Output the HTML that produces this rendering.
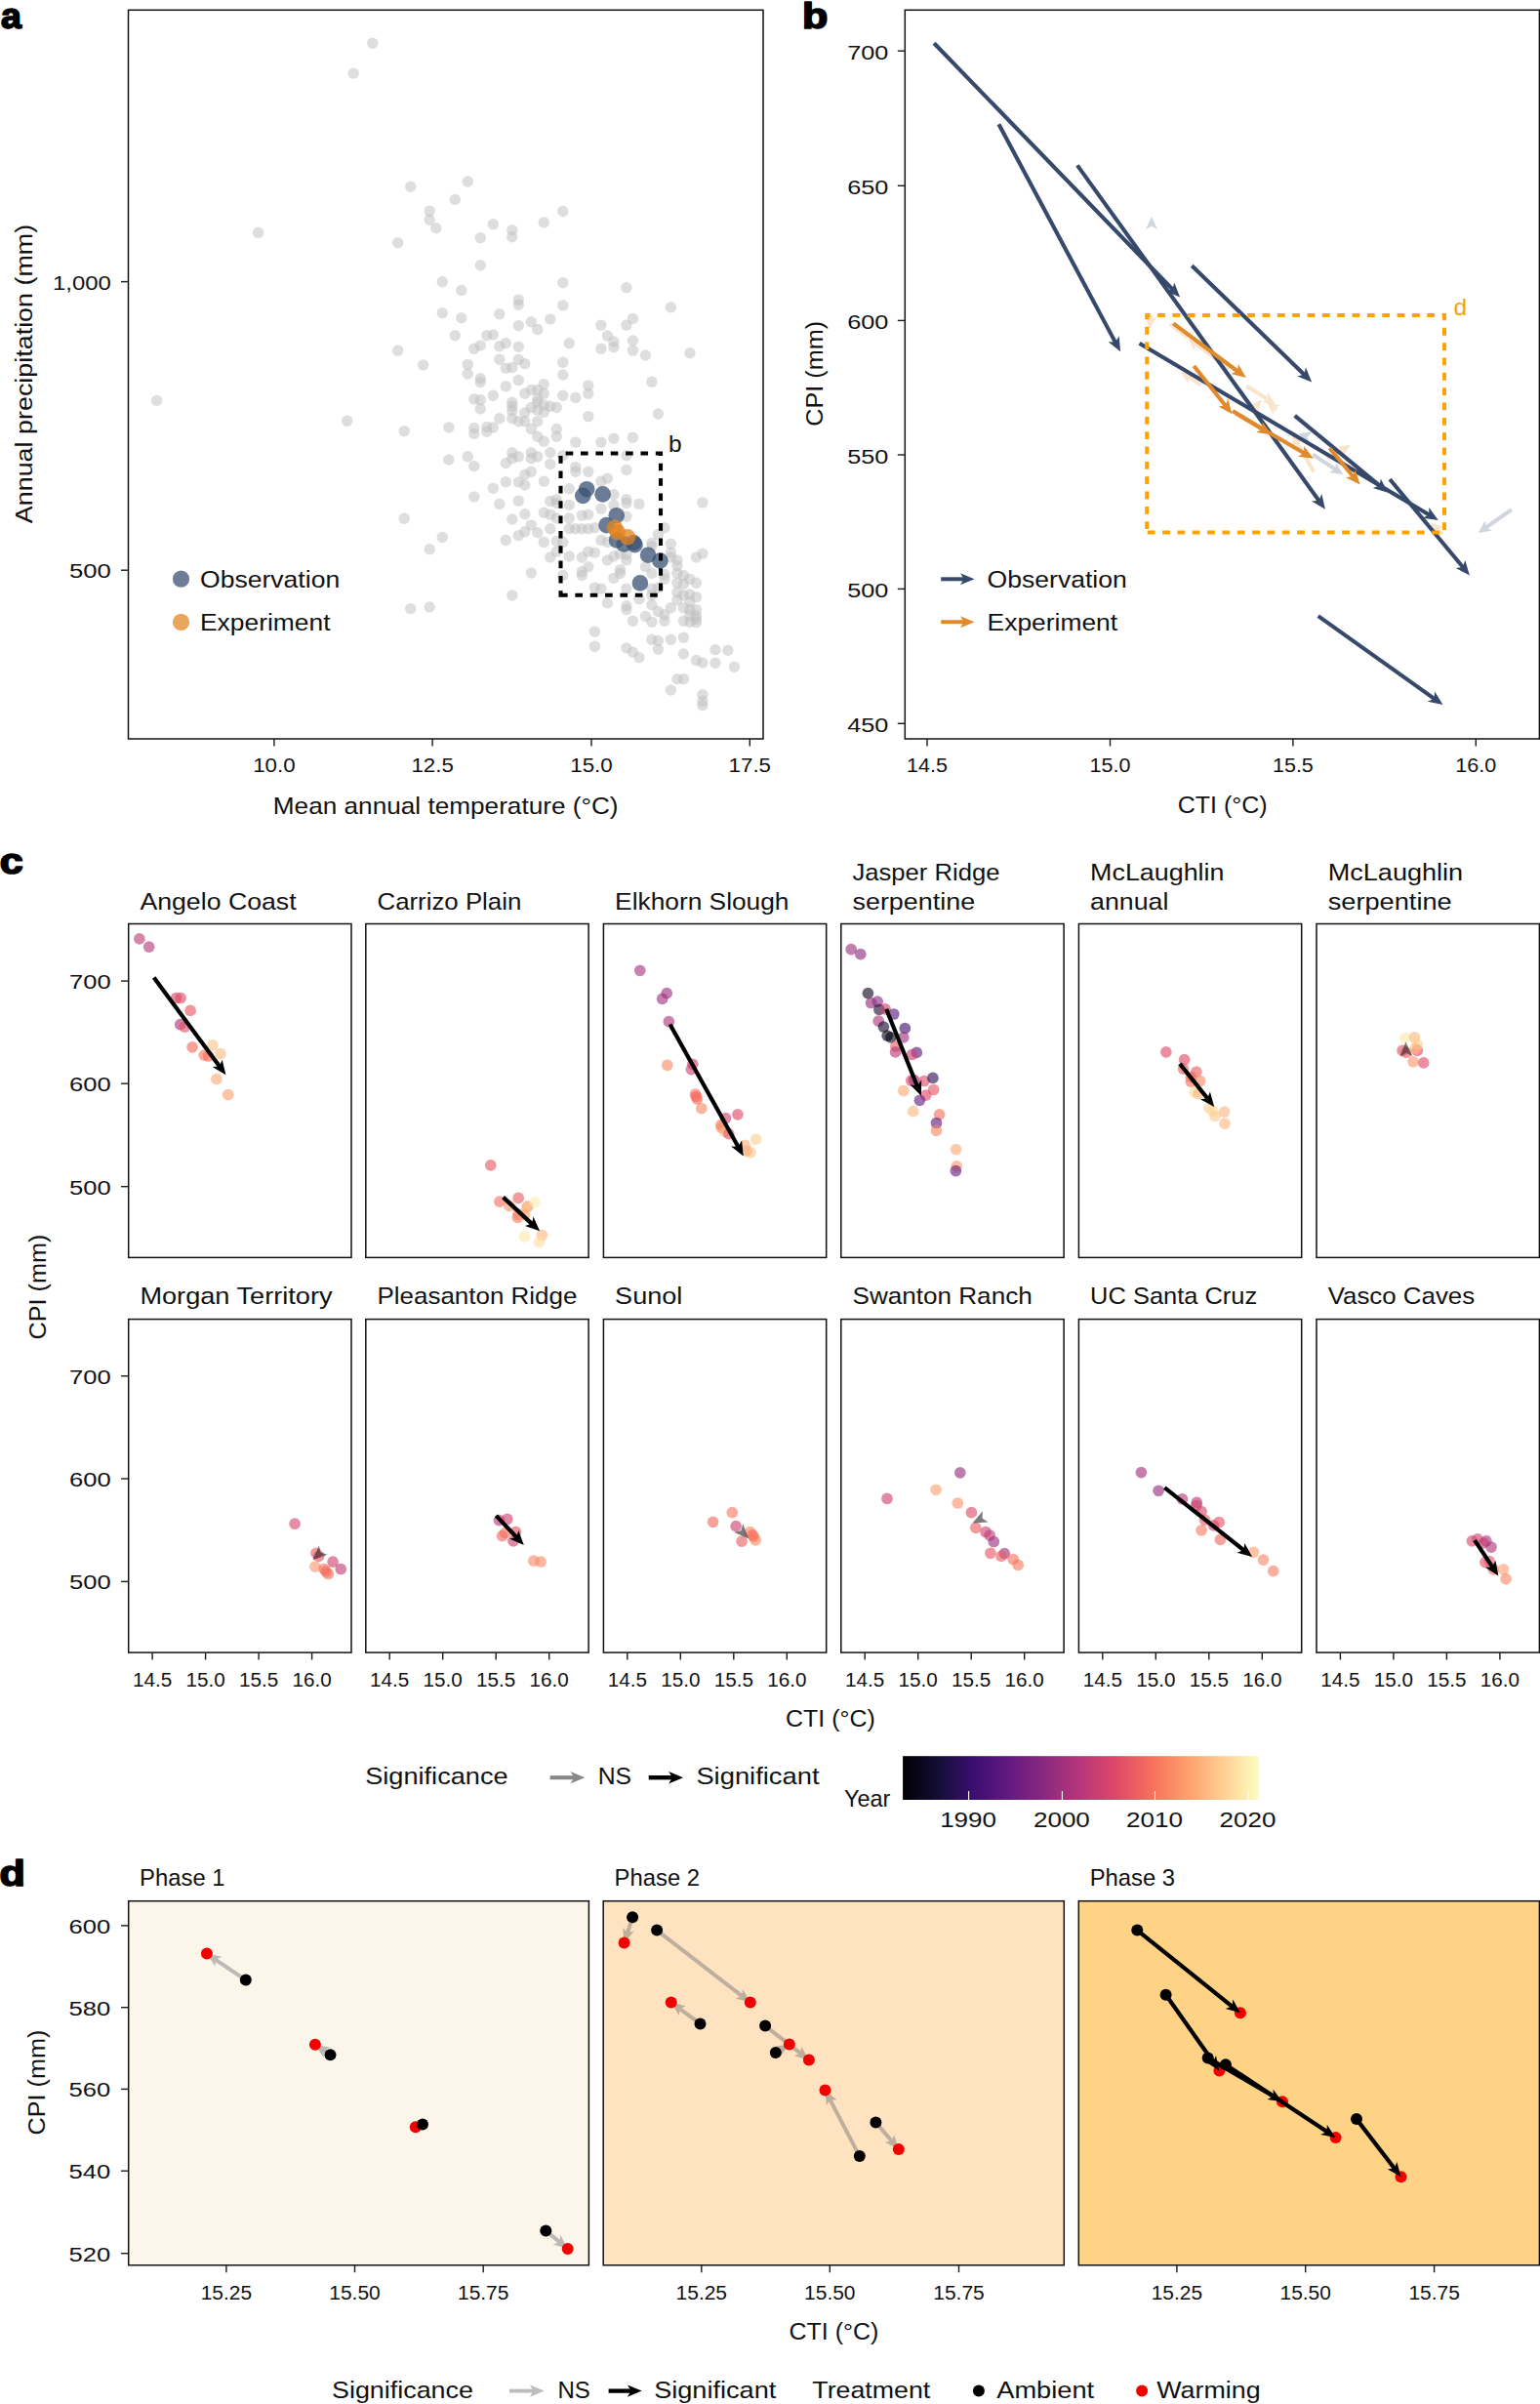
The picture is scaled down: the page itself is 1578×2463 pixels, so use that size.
<!DOCTYPE html>
<html><head><meta charset="utf-8"><title>Figure</title>
<style>html,body{margin:0;padding:0;background:#fff}svg{display:block}</style></head>
<body>
<svg width="1578" height="2463" viewBox="0 0 1578 2463" font-family="'Liberation Sans', sans-serif">
<rect width="1578" height="2463" fill="#fff"/>
<g id="pa">
<circle cx="381.7" cy="44.2" r="5.7" fill="#bdbdbd" fill-opacity="0.5"/>
<circle cx="362.2" cy="75.1" r="5.7" fill="#bdbdbd" fill-opacity="0.5"/>
<circle cx="264.6" cy="238.4" r="5.7" fill="#bdbdbd" fill-opacity="0.5"/>
<circle cx="420.7" cy="191.2" r="5.7" fill="#bdbdbd" fill-opacity="0.5"/>
<circle cx="479.3" cy="186.0" r="5.7" fill="#bdbdbd" fill-opacity="0.5"/>
<circle cx="466.3" cy="204.4" r="5.7" fill="#bdbdbd" fill-opacity="0.5"/>
<circle cx="440.2" cy="216.1" r="5.7" fill="#bdbdbd" fill-opacity="0.5"/>
<circle cx="440.2" cy="225.2" r="5.7" fill="#bdbdbd" fill-opacity="0.5"/>
<circle cx="446.8" cy="233.8" r="5.7" fill="#bdbdbd" fill-opacity="0.5"/>
<circle cx="407.7" cy="248.6" r="5.7" fill="#bdbdbd" fill-opacity="0.5"/>
<circle cx="492.3" cy="243.6" r="5.7" fill="#bdbdbd" fill-opacity="0.5"/>
<circle cx="492.3" cy="271.7" r="5.7" fill="#bdbdbd" fill-opacity="0.5"/>
<circle cx="453.3" cy="288.8" r="5.7" fill="#bdbdbd" fill-opacity="0.5"/>
<circle cx="472.8" cy="297.4" r="5.7" fill="#bdbdbd" fill-opacity="0.5"/>
<circle cx="505.3" cy="229.7" r="5.7" fill="#bdbdbd" fill-opacity="0.5"/>
<circle cx="524.8" cy="235.7" r="5.7" fill="#bdbdbd" fill-opacity="0.5"/>
<circle cx="524.8" cy="242.7" r="5.7" fill="#bdbdbd" fill-opacity="0.5"/>
<circle cx="557.3" cy="227.9" r="5.7" fill="#bdbdbd" fill-opacity="0.5"/>
<circle cx="576.8" cy="216.5" r="5.7" fill="#bdbdbd" fill-opacity="0.5"/>
<circle cx="576.8" cy="289.7" r="5.7" fill="#bdbdbd" fill-opacity="0.5"/>
<circle cx="641.9" cy="294.7" r="5.7" fill="#bdbdbd" fill-opacity="0.5"/>
<circle cx="531.3" cy="307.1" r="5.7" fill="#bdbdbd" fill-opacity="0.5"/>
<circle cx="531.3" cy="312.3" r="5.7" fill="#bdbdbd" fill-opacity="0.5"/>
<circle cx="576.8" cy="312.9" r="5.7" fill="#bdbdbd" fill-opacity="0.5"/>
<circle cx="687.4" cy="314.7" r="5.7" fill="#bdbdbd" fill-opacity="0.5"/>
<circle cx="453.3" cy="320.6" r="5.7" fill="#bdbdbd" fill-opacity="0.5"/>
<circle cx="472.8" cy="325.8" r="5.7" fill="#bdbdbd" fill-opacity="0.5"/>
<circle cx="511.8" cy="321.7" r="5.7" fill="#bdbdbd" fill-opacity="0.5"/>
<circle cx="563.8" cy="326.9" r="5.7" fill="#bdbdbd" fill-opacity="0.5"/>
<circle cx="544.3" cy="329.7" r="5.7" fill="#bdbdbd" fill-opacity="0.5"/>
<circle cx="531.3" cy="333.6" r="5.7" fill="#bdbdbd" fill-opacity="0.5"/>
<circle cx="550.8" cy="337.5" r="5.7" fill="#bdbdbd" fill-opacity="0.5"/>
<circle cx="615.9" cy="333.1" r="5.7" fill="#bdbdbd" fill-opacity="0.5"/>
<circle cx="641.9" cy="333.1" r="5.7" fill="#bdbdbd" fill-opacity="0.5"/>
<circle cx="648.4" cy="326.4" r="5.7" fill="#bdbdbd" fill-opacity="0.5"/>
<circle cx="466.3" cy="343.8" r="5.7" fill="#bdbdbd" fill-opacity="0.5"/>
<circle cx="498.8" cy="343.8" r="5.7" fill="#bdbdbd" fill-opacity="0.5"/>
<circle cx="505.3" cy="343.0" r="5.7" fill="#bdbdbd" fill-opacity="0.5"/>
<circle cx="622.4" cy="344.0" r="5.7" fill="#bdbdbd" fill-opacity="0.5"/>
<circle cx="628.9" cy="350.0" r="5.7" fill="#bdbdbd" fill-opacity="0.5"/>
<circle cx="648.4" cy="349.0" r="5.7" fill="#bdbdbd" fill-opacity="0.5"/>
<circle cx="407.7" cy="359.1" r="5.7" fill="#bdbdbd" fill-opacity="0.5"/>
<circle cx="485.8" cy="357.3" r="5.7" fill="#bdbdbd" fill-opacity="0.5"/>
<circle cx="492.3" cy="353.9" r="5.7" fill="#bdbdbd" fill-opacity="0.5"/>
<circle cx="511.8" cy="354.7" r="5.7" fill="#bdbdbd" fill-opacity="0.5"/>
<circle cx="518.3" cy="351.6" r="5.7" fill="#bdbdbd" fill-opacity="0.5"/>
<circle cx="531.3" cy="355.2" r="5.7" fill="#bdbdbd" fill-opacity="0.5"/>
<circle cx="583.3" cy="351.8" r="5.7" fill="#bdbdbd" fill-opacity="0.5"/>
<circle cx="615.9" cy="357.3" r="5.7" fill="#bdbdbd" fill-opacity="0.5"/>
<circle cx="628.9" cy="355.7" r="5.7" fill="#bdbdbd" fill-opacity="0.5"/>
<circle cx="648.4" cy="359.1" r="5.7" fill="#bdbdbd" fill-opacity="0.5"/>
<circle cx="661.4" cy="364.0" r="5.7" fill="#bdbdbd" fill-opacity="0.5"/>
<circle cx="706.9" cy="361.7" r="5.7" fill="#bdbdbd" fill-opacity="0.5"/>
<circle cx="433.7" cy="373.9" r="5.7" fill="#bdbdbd" fill-opacity="0.5"/>
<circle cx="479.3" cy="373.4" r="5.7" fill="#bdbdbd" fill-opacity="0.5"/>
<circle cx="511.8" cy="368.2" r="5.7" fill="#bdbdbd" fill-opacity="0.5"/>
<circle cx="531.3" cy="368.2" r="5.7" fill="#bdbdbd" fill-opacity="0.5"/>
<circle cx="537.8" cy="372.6" r="5.7" fill="#bdbdbd" fill-opacity="0.5"/>
<circle cx="518.3" cy="377.3" r="5.7" fill="#bdbdbd" fill-opacity="0.5"/>
<circle cx="524.8" cy="376.5" r="5.7" fill="#bdbdbd" fill-opacity="0.5"/>
<circle cx="576.8" cy="371.3" r="5.7" fill="#bdbdbd" fill-opacity="0.5"/>
<circle cx="479.3" cy="383.0" r="5.7" fill="#bdbdbd" fill-opacity="0.5"/>
<circle cx="576.8" cy="384.0" r="5.7" fill="#bdbdbd" fill-opacity="0.5"/>
<circle cx="492.3" cy="387.7" r="5.7" fill="#bdbdbd" fill-opacity="0.5"/>
<circle cx="492.3" cy="391.6" r="5.7" fill="#bdbdbd" fill-opacity="0.5"/>
<circle cx="531.3" cy="389.5" r="5.7" fill="#bdbdbd" fill-opacity="0.5"/>
<circle cx="518.3" cy="395.7" r="5.7" fill="#bdbdbd" fill-opacity="0.5"/>
<circle cx="557.3" cy="393.6" r="5.7" fill="#bdbdbd" fill-opacity="0.5"/>
<circle cx="602.8" cy="394.9" r="5.7" fill="#bdbdbd" fill-opacity="0.5"/>
<circle cx="667.9" cy="391.3" r="5.7" fill="#bdbdbd" fill-opacity="0.5"/>
<circle cx="544.3" cy="399.4" r="5.7" fill="#bdbdbd" fill-opacity="0.5"/>
<circle cx="550.8" cy="399.4" r="5.7" fill="#bdbdbd" fill-opacity="0.5"/>
<circle cx="537.8" cy="403.2" r="5.7" fill="#bdbdbd" fill-opacity="0.5"/>
<circle cx="557.3" cy="403.2" r="5.7" fill="#bdbdbd" fill-opacity="0.5"/>
<circle cx="576.8" cy="405.3" r="5.7" fill="#bdbdbd" fill-opacity="0.5"/>
<circle cx="589.8" cy="407.4" r="5.7" fill="#bdbdbd" fill-opacity="0.5"/>
<circle cx="602.8" cy="403.2" r="5.7" fill="#bdbdbd" fill-opacity="0.5"/>
<circle cx="505.3" cy="405.3" r="5.7" fill="#bdbdbd" fill-opacity="0.5"/>
<circle cx="485.8" cy="409.0" r="5.7" fill="#bdbdbd" fill-opacity="0.5"/>
<circle cx="492.3" cy="409.7" r="5.7" fill="#bdbdbd" fill-opacity="0.5"/>
<circle cx="524.8" cy="412.3" r="5.7" fill="#bdbdbd" fill-opacity="0.5"/>
<circle cx="524.8" cy="416.2" r="5.7" fill="#bdbdbd" fill-opacity="0.5"/>
<circle cx="550.8" cy="408.4" r="5.7" fill="#bdbdbd" fill-opacity="0.5"/>
<circle cx="550.8" cy="412.3" r="5.7" fill="#bdbdbd" fill-opacity="0.5"/>
<circle cx="492.3" cy="418.8" r="5.7" fill="#bdbdbd" fill-opacity="0.5"/>
<circle cx="544.3" cy="417.5" r="5.7" fill="#bdbdbd" fill-opacity="0.5"/>
<circle cx="557.3" cy="414.9" r="5.7" fill="#bdbdbd" fill-opacity="0.5"/>
<circle cx="563.8" cy="416.2" r="5.7" fill="#bdbdbd" fill-opacity="0.5"/>
<circle cx="570.3" cy="417.5" r="5.7" fill="#bdbdbd" fill-opacity="0.5"/>
<circle cx="550.8" cy="420.1" r="5.7" fill="#bdbdbd" fill-opacity="0.5"/>
<circle cx="557.3" cy="422.2" r="5.7" fill="#bdbdbd" fill-opacity="0.5"/>
<circle cx="537.8" cy="422.7" r="5.7" fill="#bdbdbd" fill-opacity="0.5"/>
<circle cx="602.8" cy="426.6" r="5.7" fill="#bdbdbd" fill-opacity="0.5"/>
<circle cx="674.4" cy="424.0" r="5.7" fill="#bdbdbd" fill-opacity="0.5"/>
<circle cx="459.8" cy="437.9" r="5.7" fill="#bdbdbd" fill-opacity="0.5"/>
<circle cx="485.8" cy="438.5" r="5.7" fill="#bdbdbd" fill-opacity="0.5"/>
<circle cx="485.8" cy="444.4" r="5.7" fill="#bdbdbd" fill-opacity="0.5"/>
<circle cx="498.8" cy="437.5" r="5.7" fill="#bdbdbd" fill-opacity="0.5"/>
<circle cx="505.3" cy="437.9" r="5.7" fill="#bdbdbd" fill-opacity="0.5"/>
<circle cx="511.8" cy="428.8" r="5.7" fill="#bdbdbd" fill-opacity="0.5"/>
<circle cx="524.8" cy="428.8" r="5.7" fill="#bdbdbd" fill-opacity="0.5"/>
<circle cx="531.3" cy="431.7" r="5.7" fill="#bdbdbd" fill-opacity="0.5"/>
<circle cx="537.8" cy="431.7" r="5.7" fill="#bdbdbd" fill-opacity="0.5"/>
<circle cx="550.8" cy="431.7" r="5.7" fill="#bdbdbd" fill-opacity="0.5"/>
<circle cx="524.8" cy="421.0" r="5.7" fill="#bdbdbd" fill-opacity="0.5"/>
<circle cx="544.3" cy="439.5" r="5.7" fill="#bdbdbd" fill-opacity="0.5"/>
<circle cx="550.8" cy="447.3" r="5.7" fill="#bdbdbd" fill-opacity="0.5"/>
<circle cx="557.3" cy="452.1" r="5.7" fill="#bdbdbd" fill-opacity="0.5"/>
<circle cx="570.3" cy="439.5" r="5.7" fill="#bdbdbd" fill-opacity="0.5"/>
<circle cx="570.3" cy="447.3" r="5.7" fill="#bdbdbd" fill-opacity="0.5"/>
<circle cx="589.8" cy="453.1" r="5.7" fill="#bdbdbd" fill-opacity="0.5"/>
<circle cx="615.9" cy="453.1" r="5.7" fill="#bdbdbd" fill-opacity="0.5"/>
<circle cx="628.9" cy="449.2" r="5.7" fill="#bdbdbd" fill-opacity="0.5"/>
<circle cx="648.4" cy="448.2" r="5.7" fill="#bdbdbd" fill-opacity="0.5"/>
<circle cx="459.8" cy="471.0" r="5.7" fill="#bdbdbd" fill-opacity="0.5"/>
<circle cx="479.3" cy="467.7" r="5.7" fill="#bdbdbd" fill-opacity="0.5"/>
<circle cx="485.8" cy="477.5" r="5.7" fill="#bdbdbd" fill-opacity="0.5"/>
<circle cx="518.3" cy="474.5" r="5.7" fill="#bdbdbd" fill-opacity="0.5"/>
<circle cx="524.8" cy="463.8" r="5.7" fill="#bdbdbd" fill-opacity="0.5"/>
<circle cx="524.8" cy="469.7" r="5.7" fill="#bdbdbd" fill-opacity="0.5"/>
<circle cx="531.3" cy="467.7" r="5.7" fill="#bdbdbd" fill-opacity="0.5"/>
<circle cx="544.3" cy="463.8" r="5.7" fill="#bdbdbd" fill-opacity="0.5"/>
<circle cx="544.3" cy="469.7" r="5.7" fill="#bdbdbd" fill-opacity="0.5"/>
<circle cx="550.8" cy="467.7" r="5.7" fill="#bdbdbd" fill-opacity="0.5"/>
<circle cx="563.8" cy="463.8" r="5.7" fill="#bdbdbd" fill-opacity="0.5"/>
<circle cx="563.8" cy="475.5" r="5.7" fill="#bdbdbd" fill-opacity="0.5"/>
<circle cx="576.8" cy="466.8" r="5.7" fill="#bdbdbd" fill-opacity="0.5"/>
<circle cx="589.8" cy="478.4" r="5.7" fill="#bdbdbd" fill-opacity="0.5"/>
<circle cx="589.8" cy="483.3" r="5.7" fill="#bdbdbd" fill-opacity="0.5"/>
<circle cx="602.8" cy="483.3" r="5.7" fill="#bdbdbd" fill-opacity="0.5"/>
<circle cx="641.9" cy="466.8" r="5.7" fill="#bdbdbd" fill-opacity="0.5"/>
<circle cx="641.9" cy="481.4" r="5.7" fill="#bdbdbd" fill-opacity="0.5"/>
<circle cx="537.8" cy="486.2" r="5.7" fill="#bdbdbd" fill-opacity="0.5"/>
<circle cx="544.3" cy="483.3" r="5.7" fill="#bdbdbd" fill-opacity="0.5"/>
<circle cx="518.3" cy="493.6" r="5.7" fill="#bdbdbd" fill-opacity="0.5"/>
<circle cx="531.3" cy="494.0" r="5.7" fill="#bdbdbd" fill-opacity="0.5"/>
<circle cx="537.8" cy="497.0" r="5.7" fill="#bdbdbd" fill-opacity="0.5"/>
<circle cx="557.3" cy="493.1" r="5.7" fill="#bdbdbd" fill-opacity="0.5"/>
<circle cx="505.3" cy="500.3" r="5.7" fill="#bdbdbd" fill-opacity="0.5"/>
<circle cx="485.8" cy="509.0" r="5.7" fill="#bdbdbd" fill-opacity="0.5"/>
<circle cx="511.8" cy="516.4" r="5.7" fill="#bdbdbd" fill-opacity="0.5"/>
<circle cx="531.3" cy="513.1" r="5.7" fill="#bdbdbd" fill-opacity="0.5"/>
<circle cx="615.9" cy="493.1" r="5.7" fill="#bdbdbd" fill-opacity="0.5"/>
<circle cx="622.4" cy="490.1" r="5.7" fill="#bdbdbd" fill-opacity="0.5"/>
<circle cx="583.3" cy="500.8" r="5.7" fill="#bdbdbd" fill-opacity="0.5"/>
<circle cx="628.9" cy="506.7" r="5.7" fill="#bdbdbd" fill-opacity="0.5"/>
<circle cx="641.9" cy="511.6" r="5.7" fill="#bdbdbd" fill-opacity="0.5"/>
<circle cx="641.9" cy="515.5" r="5.7" fill="#bdbdbd" fill-opacity="0.5"/>
<circle cx="654.9" cy="516.4" r="5.7" fill="#bdbdbd" fill-opacity="0.5"/>
<circle cx="563.8" cy="513.5" r="5.7" fill="#bdbdbd" fill-opacity="0.5"/>
<circle cx="570.3" cy="511.6" r="5.7" fill="#bdbdbd" fill-opacity="0.5"/>
<circle cx="570.3" cy="515.5" r="5.7" fill="#bdbdbd" fill-opacity="0.5"/>
<circle cx="583.3" cy="517.4" r="5.7" fill="#bdbdbd" fill-opacity="0.5"/>
<circle cx="628.9" cy="517.4" r="5.7" fill="#bdbdbd" fill-opacity="0.5"/>
<circle cx="615.9" cy="521.3" r="5.7" fill="#bdbdbd" fill-opacity="0.5"/>
<circle cx="719.9" cy="514.9" r="5.7" fill="#bdbdbd" fill-opacity="0.5"/>
<circle cx="524.8" cy="532.0" r="5.7" fill="#bdbdbd" fill-opacity="0.5"/>
<circle cx="537.8" cy="526.8" r="5.7" fill="#bdbdbd" fill-opacity="0.5"/>
<circle cx="557.3" cy="525.2" r="5.7" fill="#bdbdbd" fill-opacity="0.5"/>
<circle cx="563.8" cy="527.1" r="5.7" fill="#bdbdbd" fill-opacity="0.5"/>
<circle cx="570.3" cy="531.0" r="5.7" fill="#bdbdbd" fill-opacity="0.5"/>
<circle cx="583.3" cy="531.0" r="5.7" fill="#bdbdbd" fill-opacity="0.5"/>
<circle cx="596.3" cy="528.1" r="5.7" fill="#bdbdbd" fill-opacity="0.5"/>
<circle cx="602.8" cy="527.1" r="5.7" fill="#bdbdbd" fill-opacity="0.5"/>
<circle cx="641.9" cy="529.1" r="5.7" fill="#bdbdbd" fill-opacity="0.5"/>
<circle cx="544.3" cy="537.9" r="5.7" fill="#bdbdbd" fill-opacity="0.5"/>
<circle cx="563.8" cy="541.8" r="5.7" fill="#bdbdbd" fill-opacity="0.5"/>
<circle cx="583.3" cy="541.8" r="5.7" fill="#bdbdbd" fill-opacity="0.5"/>
<circle cx="589.8" cy="541.8" r="5.7" fill="#bdbdbd" fill-opacity="0.5"/>
<circle cx="596.3" cy="541.8" r="5.7" fill="#bdbdbd" fill-opacity="0.5"/>
<circle cx="602.8" cy="541.8" r="5.7" fill="#bdbdbd" fill-opacity="0.5"/>
<circle cx="609.4" cy="540.8" r="5.7" fill="#bdbdbd" fill-opacity="0.5"/>
<circle cx="537.8" cy="544.7" r="5.7" fill="#bdbdbd" fill-opacity="0.5"/>
<circle cx="550.8" cy="545.7" r="5.7" fill="#bdbdbd" fill-opacity="0.5"/>
<circle cx="453.3" cy="550.5" r="5.7" fill="#bdbdbd" fill-opacity="0.5"/>
<circle cx="518.3" cy="553.5" r="5.7" fill="#bdbdbd" fill-opacity="0.5"/>
<circle cx="531.3" cy="548.6" r="5.7" fill="#bdbdbd" fill-opacity="0.5"/>
<circle cx="557.3" cy="555.4" r="5.7" fill="#bdbdbd" fill-opacity="0.5"/>
<circle cx="570.3" cy="554.4" r="5.7" fill="#bdbdbd" fill-opacity="0.5"/>
<circle cx="576.8" cy="555.4" r="5.7" fill="#bdbdbd" fill-opacity="0.5"/>
<circle cx="440.2" cy="562.8" r="5.7" fill="#bdbdbd" fill-opacity="0.5"/>
<circle cx="615.9" cy="553.5" r="5.7" fill="#bdbdbd" fill-opacity="0.5"/>
<circle cx="622.4" cy="555.4" r="5.7" fill="#bdbdbd" fill-opacity="0.5"/>
<circle cx="674.4" cy="547.6" r="5.7" fill="#bdbdbd" fill-opacity="0.5"/>
<circle cx="680.9" cy="540.8" r="5.7" fill="#bdbdbd" fill-opacity="0.5"/>
<circle cx="667.9" cy="556.4" r="5.7" fill="#bdbdbd" fill-opacity="0.5"/>
<circle cx="687.4" cy="557.3" r="5.7" fill="#bdbdbd" fill-opacity="0.5"/>
<circle cx="563.8" cy="571.0" r="5.7" fill="#bdbdbd" fill-opacity="0.5"/>
<circle cx="570.3" cy="565.1" r="5.7" fill="#bdbdbd" fill-opacity="0.5"/>
<circle cx="583.3" cy="570.0" r="5.7" fill="#bdbdbd" fill-opacity="0.5"/>
<circle cx="596.3" cy="571.0" r="5.7" fill="#bdbdbd" fill-opacity="0.5"/>
<circle cx="602.8" cy="565.1" r="5.7" fill="#bdbdbd" fill-opacity="0.5"/>
<circle cx="609.4" cy="566.1" r="5.7" fill="#bdbdbd" fill-opacity="0.5"/>
<circle cx="622.4" cy="573.9" r="5.7" fill="#bdbdbd" fill-opacity="0.5"/>
<circle cx="628.9" cy="570.0" r="5.7" fill="#bdbdbd" fill-opacity="0.5"/>
<circle cx="635.4" cy="567.1" r="5.7" fill="#bdbdbd" fill-opacity="0.5"/>
<circle cx="641.9" cy="568.1" r="5.7" fill="#bdbdbd" fill-opacity="0.5"/>
<circle cx="641.9" cy="573.9" r="5.7" fill="#bdbdbd" fill-opacity="0.5"/>
<circle cx="687.4" cy="566.1" r="5.7" fill="#bdbdbd" fill-opacity="0.5"/>
<circle cx="693.9" cy="573.9" r="5.7" fill="#bdbdbd" fill-opacity="0.5"/>
<circle cx="713.4" cy="571.0" r="5.7" fill="#bdbdbd" fill-opacity="0.5"/>
<circle cx="719.9" cy="567.1" r="5.7" fill="#bdbdbd" fill-opacity="0.5"/>
<circle cx="544.3" cy="587.0" r="5.7" fill="#bdbdbd" fill-opacity="0.5"/>
<circle cx="576.8" cy="589.5" r="5.7" fill="#bdbdbd" fill-opacity="0.5"/>
<circle cx="596.3" cy="585.6" r="5.7" fill="#bdbdbd" fill-opacity="0.5"/>
<circle cx="596.3" cy="589.5" r="5.7" fill="#bdbdbd" fill-opacity="0.5"/>
<circle cx="602.8" cy="580.7" r="5.7" fill="#bdbdbd" fill-opacity="0.5"/>
<circle cx="635.4" cy="583.6" r="5.7" fill="#bdbdbd" fill-opacity="0.5"/>
<circle cx="628.9" cy="592.4" r="5.7" fill="#bdbdbd" fill-opacity="0.5"/>
<circle cx="635.4" cy="587.5" r="5.7" fill="#bdbdbd" fill-opacity="0.5"/>
<circle cx="661.4" cy="580.7" r="5.7" fill="#bdbdbd" fill-opacity="0.5"/>
<circle cx="667.9" cy="587.5" r="5.7" fill="#bdbdbd" fill-opacity="0.5"/>
<circle cx="693.9" cy="579.8" r="5.7" fill="#bdbdbd" fill-opacity="0.5"/>
<circle cx="700.4" cy="589.5" r="5.7" fill="#bdbdbd" fill-opacity="0.5"/>
<circle cx="680.9" cy="593.4" r="5.7" fill="#bdbdbd" fill-opacity="0.5"/>
<circle cx="693.9" cy="597.3" r="5.7" fill="#bdbdbd" fill-opacity="0.5"/>
<circle cx="706.9" cy="593.4" r="5.7" fill="#bdbdbd" fill-opacity="0.5"/>
<circle cx="713.4" cy="597.3" r="5.7" fill="#bdbdbd" fill-opacity="0.5"/>
<circle cx="524.8" cy="609.9" r="5.7" fill="#bdbdbd" fill-opacity="0.5"/>
<circle cx="609.4" cy="602.2" r="5.7" fill="#bdbdbd" fill-opacity="0.5"/>
<circle cx="615.9" cy="603.1" r="5.7" fill="#bdbdbd" fill-opacity="0.5"/>
<circle cx="641.9" cy="603.1" r="5.7" fill="#bdbdbd" fill-opacity="0.5"/>
<circle cx="654.9" cy="613.8" r="5.7" fill="#bdbdbd" fill-opacity="0.5"/>
<circle cx="667.9" cy="603.1" r="5.7" fill="#bdbdbd" fill-opacity="0.5"/>
<circle cx="622.4" cy="617.7" r="5.7" fill="#bdbdbd" fill-opacity="0.5"/>
<circle cx="641.9" cy="620.7" r="5.7" fill="#bdbdbd" fill-opacity="0.5"/>
<circle cx="641.9" cy="624.6" r="5.7" fill="#bdbdbd" fill-opacity="0.5"/>
<circle cx="667.9" cy="619.7" r="5.7" fill="#bdbdbd" fill-opacity="0.5"/>
<circle cx="693.9" cy="607.0" r="5.7" fill="#bdbdbd" fill-opacity="0.5"/>
<circle cx="700.4" cy="609.9" r="5.7" fill="#bdbdbd" fill-opacity="0.5"/>
<circle cx="693.9" cy="614.8" r="5.7" fill="#bdbdbd" fill-opacity="0.5"/>
<circle cx="706.9" cy="609.0" r="5.7" fill="#bdbdbd" fill-opacity="0.5"/>
<circle cx="706.9" cy="616.8" r="5.7" fill="#bdbdbd" fill-opacity="0.5"/>
<circle cx="713.4" cy="624.6" r="5.7" fill="#bdbdbd" fill-opacity="0.5"/>
<circle cx="661.4" cy="631.4" r="5.7" fill="#bdbdbd" fill-opacity="0.5"/>
<circle cx="648.4" cy="636.2" r="5.7" fill="#bdbdbd" fill-opacity="0.5"/>
<circle cx="680.9" cy="636.2" r="5.7" fill="#bdbdbd" fill-opacity="0.5"/>
<circle cx="700.4" cy="636.2" r="5.7" fill="#bdbdbd" fill-opacity="0.5"/>
<circle cx="706.9" cy="630.4" r="5.7" fill="#bdbdbd" fill-opacity="0.5"/>
<circle cx="713.4" cy="634.3" r="5.7" fill="#bdbdbd" fill-opacity="0.5"/>
<circle cx="420.7" cy="623.6" r="5.7" fill="#bdbdbd" fill-opacity="0.5"/>
<circle cx="440.2" cy="622.0" r="5.7" fill="#bdbdbd" fill-opacity="0.5"/>
<circle cx="667.9" cy="559.8" r="5.7" fill="#bdbdbd" fill-opacity="0.5"/>
<circle cx="687.4" cy="571.0" r="5.7" fill="#bdbdbd" fill-opacity="0.5"/>
<circle cx="680.9" cy="588.5" r="5.7" fill="#bdbdbd" fill-opacity="0.5"/>
<circle cx="693.9" cy="587.2" r="5.7" fill="#bdbdbd" fill-opacity="0.5"/>
<circle cx="700.4" cy="598.5" r="5.7" fill="#bdbdbd" fill-opacity="0.5"/>
<circle cx="674.4" cy="602.2" r="5.7" fill="#bdbdbd" fill-opacity="0.5"/>
<circle cx="667.9" cy="609.7" r="5.7" fill="#bdbdbd" fill-opacity="0.5"/>
<circle cx="713.4" cy="611.6" r="5.7" fill="#bdbdbd" fill-opacity="0.5"/>
<circle cx="687.4" cy="622.8" r="5.7" fill="#bdbdbd" fill-opacity="0.5"/>
<circle cx="700.4" cy="622.8" r="5.7" fill="#bdbdbd" fill-opacity="0.5"/>
<circle cx="706.9" cy="624.7" r="5.7" fill="#bdbdbd" fill-opacity="0.5"/>
<circle cx="674.4" cy="626.5" r="5.7" fill="#bdbdbd" fill-opacity="0.5"/>
<circle cx="680.9" cy="629.7" r="5.7" fill="#bdbdbd" fill-opacity="0.5"/>
<circle cx="713.4" cy="630.9" r="5.7" fill="#bdbdbd" fill-opacity="0.5"/>
<circle cx="667.9" cy="637.2" r="5.7" fill="#bdbdbd" fill-opacity="0.5"/>
<circle cx="706.9" cy="637.2" r="5.7" fill="#bdbdbd" fill-opacity="0.5"/>
<circle cx="713.4" cy="637.8" r="5.7" fill="#bdbdbd" fill-opacity="0.5"/>
<circle cx="667.9" cy="655.2" r="5.7" fill="#bdbdbd" fill-opacity="0.5"/>
<circle cx="674.4" cy="656.5" r="5.7" fill="#bdbdbd" fill-opacity="0.5"/>
<circle cx="687.4" cy="655.2" r="5.7" fill="#bdbdbd" fill-opacity="0.5"/>
<circle cx="700.4" cy="653.1" r="5.7" fill="#bdbdbd" fill-opacity="0.5"/>
<circle cx="674.4" cy="665.2" r="5.7" fill="#bdbdbd" fill-opacity="0.5"/>
<circle cx="700.4" cy="670.0" r="5.7" fill="#bdbdbd" fill-opacity="0.5"/>
<circle cx="732.9" cy="665.6" r="5.7" fill="#bdbdbd" fill-opacity="0.5"/>
<circle cx="745.9" cy="666.2" r="5.7" fill="#bdbdbd" fill-opacity="0.5"/>
<circle cx="713.4" cy="676.5" r="5.7" fill="#bdbdbd" fill-opacity="0.5"/>
<circle cx="719.9" cy="679.0" r="5.7" fill="#bdbdbd" fill-opacity="0.5"/>
<circle cx="732.9" cy="679.3" r="5.7" fill="#bdbdbd" fill-opacity="0.5"/>
<circle cx="752.4" cy="683.3" r="5.7" fill="#bdbdbd" fill-opacity="0.5"/>
<circle cx="693.9" cy="695.8" r="5.7" fill="#bdbdbd" fill-opacity="0.5"/>
<circle cx="700.4" cy="695.6" r="5.7" fill="#bdbdbd" fill-opacity="0.5"/>
<circle cx="687.4" cy="707.0" r="5.7" fill="#bdbdbd" fill-opacity="0.5"/>
<circle cx="719.9" cy="711.8" r="5.7" fill="#bdbdbd" fill-opacity="0.5"/>
<circle cx="719.9" cy="718.3" r="5.7" fill="#bdbdbd" fill-opacity="0.5"/>
<circle cx="719.9" cy="722.6" r="5.7" fill="#bdbdbd" fill-opacity="0.5"/>
<circle cx="609.4" cy="647.1" r="5.7" fill="#bdbdbd" fill-opacity="0.5"/>
<circle cx="609.4" cy="662.3" r="5.7" fill="#bdbdbd" fill-opacity="0.5"/>
<circle cx="641.9" cy="663.9" r="5.7" fill="#bdbdbd" fill-opacity="0.5"/>
<circle cx="648.4" cy="668.1" r="5.7" fill="#bdbdbd" fill-opacity="0.5"/>
<circle cx="654.9" cy="673.6" r="5.7" fill="#bdbdbd" fill-opacity="0.5"/>
<circle cx="160.6" cy="410.4" r="5.7" fill="#bdbdbd" fill-opacity="0.5"/>
<circle cx="355.7" cy="431.2" r="5.7" fill="#bdbdbd" fill-opacity="0.5"/>
<circle cx="414.2" cy="441.6" r="5.7" fill="#bdbdbd" fill-opacity="0.5"/>
<circle cx="414.2" cy="531.2" r="5.7" fill="#bdbdbd" fill-opacity="0.5"/>
<circle cx="498.8" cy="442.3" r="5.7" fill="#bdbdbd" fill-opacity="0.5"/>
<circle cx="601.2" cy="501.2" r="8.3" fill="#3d5376" fill-opacity="0.76"/>
<circle cx="597.3" cy="507.9" r="8.3" fill="#3d5376" fill-opacity="0.76"/>
<circle cx="617.6" cy="506.4" r="8.3" fill="#3d5376" fill-opacity="0.76"/>
<circle cx="631.7" cy="528.2" r="8.3" fill="#3d5376" fill-opacity="0.76"/>
<circle cx="621.5" cy="538.1" r="8.3" fill="#3d5376" fill-opacity="0.76"/>
<circle cx="632.0" cy="553.4" r="8.3" fill="#3d5376" fill-opacity="0.76"/>
<circle cx="639.5" cy="557.5" r="8.3" fill="#3d5376" fill-opacity="0.76"/>
<circle cx="649.2" cy="556.0" r="8.3" fill="#3d5376" fill-opacity="0.76"/>
<circle cx="650.5" cy="558.2" r="8.3" fill="#3d5376" fill-opacity="0.76"/>
<circle cx="664.1" cy="568.7" r="8.3" fill="#3d5376" fill-opacity="0.76"/>
<circle cx="676.4" cy="574.5" r="8.3" fill="#3d5376" fill-opacity="0.76"/>
<circle cx="655.9" cy="597.4" r="8.3" fill="#3d5376" fill-opacity="0.76"/>
<circle cx="630.0" cy="540.5" r="8.3" fill="#e48320" fill-opacity="0.76"/>
<circle cx="632.7" cy="545.2" r="8.3" fill="#e48320" fill-opacity="0.76"/>
<circle cx="643.0" cy="550.3" r="8.3" fill="#e48320" fill-opacity="0.76"/>
<path d="M574.5,609.7 V464.5 H677 V609.7 Z" fill="none" stroke="#000" stroke-width="4.1" stroke-dasharray="7.6 7.76" stroke-dashoffset="3.24"/>
<rect x="131.5" y="10.3" width="650.5" height="746.7" fill="none" stroke="#111" stroke-width="1.5" />
<line x1="124.0" y1="288.6" x2="131.5" y2="288.6" stroke="#1a1a1a" stroke-width="1.4" />
<text font-size="20.5" text-anchor="end" fill="#111" textLength="59.9" lengthAdjust="spacingAndGlyphs" x="113.9" y="296.7" >1,000</text>
<line x1="124.0" y1="584.2" x2="131.5" y2="584.2" stroke="#1a1a1a" stroke-width="1.4" />
<text font-size="20.5" text-anchor="end" fill="#111" textLength="42.9" lengthAdjust="spacingAndGlyphs" x="113.9" y="592.3" >500</text>
<line x1="280.9" y1="757.0" x2="280.9" y2="764.5" stroke="#1a1a1a" stroke-width="1.4" />
<text font-size="20.5" text-anchor="middle" fill="#111" textLength="43.4" lengthAdjust="spacingAndGlyphs" x="280.9" y="791.4" >10.0</text>
<line x1="443.1" y1="757.0" x2="443.1" y2="764.5" stroke="#1a1a1a" stroke-width="1.4" />
<text font-size="20.5" text-anchor="middle" fill="#111" textLength="43.4" lengthAdjust="spacingAndGlyphs" x="443.1" y="791.4" >12.5</text>
<line x1="606.0" y1="757.0" x2="606.0" y2="764.5" stroke="#1a1a1a" stroke-width="1.4" />
<text font-size="20.5" text-anchor="middle" fill="#111" textLength="43.4" lengthAdjust="spacingAndGlyphs" x="606.0" y="791.4" >15.0</text>
<line x1="768.3" y1="757.0" x2="768.3" y2="764.5" stroke="#1a1a1a" stroke-width="1.4" />
<text font-size="20.5" text-anchor="middle" fill="#111" textLength="43.4" lengthAdjust="spacingAndGlyphs" x="768.3" y="791.4" >17.5</text>
<text font-size="24.2" text-anchor="start" fill="#111" textLength="353.8" lengthAdjust="spacingAndGlyphs" x="279.8" y="833.7" >Mean annual temperature (°C)</text>
<text font-size="24.2" text-anchor="middle" fill="#111" textLength="306.4" lengthAdjust="spacingAndGlyphs" transform="translate(33.2,383.0) rotate(-90)" x="0" y="0" >Annual precipitation (mm)</text>
<text font-size="24.5" text-anchor="start" fill="#111" x="685.0" y="463.0" >b</text>
<circle cx="185.5" cy="593.2" r="8.6" fill="#6d7d99"/>
<circle cx="185.5" cy="637.4" r="8.6" fill="#eaa55d"/>
<text font-size="24.2" text-anchor="start" fill="#111" textLength="143.2" lengthAdjust="spacingAndGlyphs" x="205.0" y="601.8" >Observation</text>
<text font-size="24.2" text-anchor="start" fill="#111" textLength="133.5" lengthAdjust="spacingAndGlyphs" x="205.0" y="645.7" >Experiment</text>
<text font-size="36.5" text-anchor="start" fill="#000" font-weight="bold" textLength="20.9" lengthAdjust="spacingAndGlyphs" x="1.0" y="29.3" stroke="#000" stroke-width="1.7" stroke-linejoin="round">a</text>
</g>
<g id="pb">
<g opacity="0.25">
<line x1="1179.5" y1="323.0" x2="1178.9" y2="328.3" stroke="#e8963a" stroke-width="4"/>
<polygon points="1178.0,337.0 1173.4,323.4 1179.0,327.3 1185.4,324.7" fill="#e8963a"/>
</g>
<g opacity="0.25">
<line x1="1259.0" y1="378.0" x2="1223.9" y2="351.3" stroke="#e8963a" stroke-width="4"/>
<polygon points="1217.0,346.0 1231.0,349.1 1224.8,351.9 1223.7,358.7" fill="#e8963a"/>
</g>
<line x1="1217" y1="346" x2="1199" y2="332" stroke="#e8963a" stroke-width="4" opacity="0.25"/>
<g opacity="0.25">
<line x1="1230.8" y1="394.4" x2="1217.4" y2="385.9" stroke="#e8963a" stroke-width="4"/>
<polygon points="1210.0,381.2 1224.2,383.1 1218.2,386.4 1217.8,393.2" fill="#e8963a"/>
</g>
<g opacity="0.25">
<line x1="1277.5" y1="395.7" x2="1299.4" y2="409.3" stroke="#e8963a" stroke-width="4"/>
<polygon points="1306.8,413.9 1292.6,412.1 1298.5,408.8 1298.9,401.9" fill="#e8963a"/>
</g>
<g opacity="0.25">
<line x1="1284.7" y1="419.1" x2="1287.0" y2="416.2" stroke="#e8963a" stroke-width="4"/>
<polygon points="1292.5,409.4 1289.0,423.3 1286.4,417.0 1279.7,415.8" fill="#e8963a"/>
</g>
<g opacity="0.25">
<line x1="1308.0" y1="420.0" x2="1304.8" y2="417.4" stroke="#e8963a" stroke-width="4"/>
<polygon points="1298.0,412.0 1311.9,415.4 1305.6,418.1 1304.4,424.8" fill="#e8963a"/>
</g>
<g opacity="0.25">
<line x1="1346.2" y1="483.3" x2="1328.1" y2="451.9" stroke="#e8963a" stroke-width="4"/>
<polygon points="1323.8,444.3 1335.5,452.6 1328.7,452.8 1325.1,458.6" fill="#e8963a"/>
</g>
<g opacity="0.25">
<line x1="1360.0" y1="470.0" x2="1376.5" y2="460.4" stroke="#e8963a" stroke-width="4"/>
<polygon points="1384.0,456.0 1375.8,467.7 1375.6,460.9 1369.7,457.4" fill="#e8963a"/>
</g>
<g opacity="0.25">
<line x1="1478.0" y1="548.0" x2="1471.9" y2="541.4" stroke="#e8963a" stroke-width="4"/>
<polygon points="1466.0,535.0 1479.2,540.5 1472.6,542.2 1470.4,548.6" fill="#e8963a"/>
</g>
<g opacity="0.4">
<polygon points="1180.0,222.0 1186.0,235.0 1180.0,231.8 1174.0,235.0" fill="#8c97ab"/>
</g>
<g opacity="0.4">
<line x1="1345.2" y1="465.7" x2="1369.1" y2="481.4" stroke="#8c97ab" stroke-width="4"/>
<polygon points="1376.4,486.2 1362.2,484.1 1368.3,480.8 1368.8,474.0" fill="#8c97ab"/>
</g>
<g opacity="0.4">
<polygon points="1330.6,444.3 1344.8,442.6 1339.9,447.3 1341.1,454.0" fill="#8c97ab"/>
</g>
<g opacity="0.4">
<line x1="1548.8" y1="522.2" x2="1521.8" y2="541.0" stroke="#8c97ab" stroke-width="4"/>
<polygon points="1514.7,546.0 1521.9,533.6 1522.7,540.4 1528.8,543.5" fill="#8c97ab"/>
</g>
<g>
<line x1="957.1" y1="44.2" x2="1202.2" y2="297.3" stroke="#36496a" stroke-width="4.1"/>
<polygon points="1209.1,304.4 1194.3,298.2 1201.4,296.4 1203.3,289.4" fill="#36496a"/>
</g>
<g>
<line x1="1023.4" y1="127.3" x2="1143.4" y2="351.6" stroke="#36496a" stroke-width="4.1"/>
<polygon points="1148.1,360.3 1135.6,350.2 1142.9,350.5 1146.7,344.3" fill="#36496a"/>
</g>
<g>
<line x1="1103.9" y1="169.4" x2="1352.1" y2="513.8" stroke="#36496a" stroke-width="4.1"/>
<polygon points="1357.9,521.8 1344.1,513.5 1351.4,512.8 1354.4,506.1" fill="#36496a"/>
</g>
<g>
<line x1="1221.3" y1="272.2" x2="1337.1" y2="384.5" stroke="#36496a" stroke-width="4.1"/>
<polygon points="1344.2,391.4 1329.2,385.6 1336.2,383.7 1338.0,376.6" fill="#36496a"/>
</g>
<g>
<line x1="1167.5" y1="351.7" x2="1465.3" y2="527.9" stroke="#36496a" stroke-width="4.1"/>
<polygon points="1473.8,532.9 1457.9,530.8 1464.2,527.2 1464.3,519.9" fill="#36496a"/>
</g>
<g>
<line x1="1326.7" y1="425.8" x2="1414.6" y2="498.4" stroke="#36496a" stroke-width="4.1"/>
<polygon points="1422.2,504.7 1406.8,500.1 1413.6,497.6 1414.8,490.4" fill="#36496a"/>
</g>
<g>
<line x1="1424.1" y1="491.0" x2="1499.6" y2="581.8" stroke="#36496a" stroke-width="4.1"/>
<polygon points="1505.9,589.4 1491.6,582.0 1498.8,580.9 1501.3,574.0" fill="#36496a"/>
</g>
<g>
<line x1="1350.7" y1="631.2" x2="1470.4" y2="716.4" stroke="#36496a" stroke-width="4.1"/>
<polygon points="1478.5,722.1 1462.8,718.7 1469.5,715.7 1470.1,708.4" fill="#36496a"/>
</g>
<g>
<line x1="1202.2" y1="331.4" x2="1268.9" y2="381.0" stroke="#e08a2c" stroke-width="4.1"/>
<polygon points="1276.9,386.9 1261.3,383.1 1268.0,380.3 1268.8,373.0" fill="#e08a2c"/>
</g>
<g>
<line x1="1223.4" y1="374.9" x2="1256.4" y2="416.5" stroke="#e08a2c" stroke-width="4.1"/>
<polygon points="1262.6,424.3 1248.5,416.6 1255.7,415.6 1258.3,408.8" fill="#e08a2c"/>
</g>
<g>
<line x1="1263.0" y1="421.0" x2="1294.5" y2="440.2" stroke="#e08a2c" stroke-width="4.1"/>
<polygon points="1303.0,445.3 1287.1,443.0 1293.5,439.5 1293.6,432.2" fill="#e08a2c"/>
</g>
<g>
<line x1="1266.5" y1="423.5" x2="1337.2" y2="464.8" stroke="#e08a2c" stroke-width="4.1"/>
<polygon points="1345.8,469.8 1329.8,467.8 1336.2,464.2 1336.2,456.9" fill="#e08a2c"/>
</g>
<g>
<line x1="1362.3" y1="459.0" x2="1387.2" y2="489.0" stroke="#e08a2c" stroke-width="4.1"/>
<polygon points="1393.5,496.6 1379.2,489.2 1386.4,488.1 1388.9,481.2" fill="#e08a2c"/>
</g>
<path d="M1175.2,545.6 V322.9 H1480 V545.6 Z" fill="none" stroke="#ffa200" stroke-width="4" stroke-dasharray="7.8 7.54" stroke-dashoffset="11.8"/>
<text font-size="24.5" text-anchor="start" fill="#f7a30c" x="1489.5" y="322.5" >d</text>
<rect x="927.3" y="10.3" width="650.1" height="746.7" fill="none" stroke="#111" stroke-width="1.5" />
<line x1="919.8" y1="52.2" x2="927.3" y2="52.2" stroke="#1a1a1a" stroke-width="1.4" />
<text font-size="20.5" text-anchor="end" fill="#111" textLength="42.2" lengthAdjust="spacingAndGlyphs" x="910.4" y="61.2" >700</text>
<line x1="919.8" y1="190.3" x2="927.3" y2="190.3" stroke="#1a1a1a" stroke-width="1.4" />
<text font-size="20.5" text-anchor="end" fill="#111" textLength="42.2" lengthAdjust="spacingAndGlyphs" x="910.4" y="199.3" >650</text>
<line x1="919.8" y1="328.4" x2="927.3" y2="328.4" stroke="#1a1a1a" stroke-width="1.4" />
<text font-size="20.5" text-anchor="end" fill="#111" textLength="42.2" lengthAdjust="spacingAndGlyphs" x="910.4" y="337.4" >600</text>
<line x1="919.8" y1="466.0" x2="927.3" y2="466.0" stroke="#1a1a1a" stroke-width="1.4" />
<text font-size="20.5" text-anchor="end" fill="#111" textLength="42.2" lengthAdjust="spacingAndGlyphs" x="910.4" y="475.0" >550</text>
<line x1="919.8" y1="603.4" x2="927.3" y2="603.4" stroke="#1a1a1a" stroke-width="1.4" />
<text font-size="20.5" text-anchor="end" fill="#111" textLength="42.2" lengthAdjust="spacingAndGlyphs" x="910.4" y="612.4" >500</text>
<line x1="919.8" y1="741.3" x2="927.3" y2="741.3" stroke="#1a1a1a" stroke-width="1.4" />
<text font-size="20.5" text-anchor="end" fill="#111" textLength="42.2" lengthAdjust="spacingAndGlyphs" x="910.4" y="750.3" >450</text>
<line x1="950.0" y1="757.0" x2="950.0" y2="764.5" stroke="#1a1a1a" stroke-width="1.4" />
<text font-size="20.5" text-anchor="middle" fill="#111" textLength="41.9" lengthAdjust="spacingAndGlyphs" x="950.0" y="791.3" >14.5</text>
<line x1="1137.5" y1="757.0" x2="1137.5" y2="764.5" stroke="#1a1a1a" stroke-width="1.4" />
<text font-size="20.5" text-anchor="middle" fill="#111" textLength="41.9" lengthAdjust="spacingAndGlyphs" x="1137.5" y="791.3" >15.0</text>
<line x1="1324.9" y1="757.0" x2="1324.9" y2="764.5" stroke="#1a1a1a" stroke-width="1.4" />
<text font-size="20.5" text-anchor="middle" fill="#111" textLength="41.9" lengthAdjust="spacingAndGlyphs" x="1324.9" y="791.3" >15.5</text>
<line x1="1512.3" y1="757.0" x2="1512.3" y2="764.5" stroke="#1a1a1a" stroke-width="1.4" />
<text font-size="20.5" text-anchor="middle" fill="#111" textLength="41.9" lengthAdjust="spacingAndGlyphs" x="1512.3" y="791.3" >16.0</text>
<text font-size="24.2" text-anchor="middle" fill="#111" textLength="91.8" lengthAdjust="spacingAndGlyphs" x="1252.7" y="833.4" >CTI (°C)</text>
<text font-size="24.2" text-anchor="middle" fill="#111" textLength="107.7" lengthAdjust="spacingAndGlyphs" transform="translate(843.1,382.8) rotate(-90)" x="0" y="0" >CPI (mm)</text>
<g>
<line x1="964.2" y1="593.3" x2="988.8" y2="593.3" stroke="#36496a" stroke-width="4"/>
<polygon points="998.5,593.3 984.0,599.3 987.6,593.3 984.0,587.3" fill="#36496a"/>
</g>
<g>
<line x1="964.2" y1="637.2" x2="988.8" y2="637.2" stroke="#e08a2c" stroke-width="4"/>
<polygon points="998.5,637.2 984.0,643.2 987.6,637.2 984.0,631.2" fill="#e08a2c"/>
</g>
<text font-size="24.2" text-anchor="start" fill="#111" textLength="143.2" lengthAdjust="spacingAndGlyphs" x="1011.6" y="601.5" >Observation</text>
<text font-size="24.2" text-anchor="start" fill="#111" textLength="133.5" lengthAdjust="spacingAndGlyphs" x="1011.6" y="645.7" >Experiment</text>
<text font-size="36.5" text-anchor="start" fill="#000" font-weight="bold" textLength="26.3" lengthAdjust="spacingAndGlyphs" x="822.0" y="28.7" stroke="#000" stroke-width="1.7" stroke-linejoin="round">b</text>
</g>
<g id="pc">
<circle cx="142.9" cy="961.9" r="5.85" fill="#bf3b76" fill-opacity="0.62"/>
<circle cx="152.7" cy="970.2" r="5.85" fill="#b73779" fill-opacity="0.62"/>
<circle cx="180.5" cy="1022.5" r="5.85" fill="#de4968" fill-opacity="0.62"/>
<circle cx="185.1" cy="1022.5" r="5.85" fill="#de4968" fill-opacity="0.62"/>
<circle cx="195.1" cy="1035.4" r="5.85" fill="#e65564" fill-opacity="0.62"/>
<circle cx="184.7" cy="1049.6" r="5.85" fill="#ae347b" fill-opacity="0.62"/>
<circle cx="189.2" cy="1052.1" r="5.85" fill="#e35166" fill-opacity="0.62"/>
<circle cx="197.1" cy="1072.8" r="5.85" fill="#f2685e" fill-opacity="0.62"/>
<circle cx="209.2" cy="1081.1" r="5.85" fill="#f8795f" fill-opacity="0.62"/>
<circle cx="213.4" cy="1082.0" r="5.85" fill="#f7705c" fill-opacity="0.62"/>
<circle cx="217.9" cy="1070.8" r="5.85" fill="#fec58b" fill-opacity="0.62"/>
<circle cx="225.8" cy="1079.5" r="5.85" fill="#febc83" fill-opacity="0.62"/>
<circle cx="221.9" cy="1105.5" r="5.85" fill="#fea974" fill-opacity="0.62"/>
<circle cx="233.7" cy="1121.5" r="5.85" fill="#fe9f6d" fill-opacity="0.62"/>
<g>
<line x1="157.7" y1="1001.6" x2="225.5" y2="1093.3" stroke="#000" stroke-width="4.2"/>
<polygon points="231.4,1101.3 217.6,1093.1 224.8,1092.4 227.7,1085.7" fill="#000"/>
</g>
<rect x="131.7" y="946.5" width="228.3" height="341.9" fill="none" stroke="#111" stroke-width="1.5" />
<text font-size="24.2" text-anchor="start" fill="#111" textLength="160.2" lengthAdjust="spacingAndGlyphs" x="143.4" y="931.9" >Angelo Coast</text>
<line x1="124.1" y1="1005.1" x2="131.7" y2="1005.1" stroke="#1a1a1a" stroke-width="1.4" />
<text font-size="20.5" text-anchor="end" fill="#111" textLength="42.7" lengthAdjust="spacingAndGlyphs" x="113.7" y="1013.1" >700</text>
<line x1="124.1" y1="1110.2" x2="131.7" y2="1110.2" stroke="#1a1a1a" stroke-width="1.4" />
<text font-size="20.5" text-anchor="end" fill="#111" textLength="42.7" lengthAdjust="spacingAndGlyphs" x="113.7" y="1118.2" >600</text>
<line x1="124.1" y1="1215.7" x2="131.7" y2="1215.7" stroke="#1a1a1a" stroke-width="1.4" />
<text font-size="20.5" text-anchor="end" fill="#111" textLength="42.7" lengthAdjust="spacingAndGlyphs" x="113.7" y="1223.7" >500</text>
<circle cx="502.8" cy="1193.8" r="5.85" fill="#e65564" fill-opacity="0.62"/>
<circle cx="511.9" cy="1231.2" r="5.85" fill="#f7705c" fill-opacity="0.62"/>
<circle cx="531.2" cy="1227.4" r="5.85" fill="#ea5d62" fill-opacity="0.62"/>
<circle cx="521.9" cy="1235.7" r="5.85" fill="#fd966a" fill-opacity="0.62"/>
<circle cx="540.6" cy="1236.2" r="5.85" fill="#fa8864" fill-opacity="0.62"/>
<circle cx="547.9" cy="1231.6" r="5.85" fill="#fdefb1" fill-opacity="0.62"/>
<circle cx="539.1" cy="1237.8" r="5.85" fill="#fec58b" fill-opacity="0.62"/>
<circle cx="530.8" cy="1244.1" r="5.85" fill="#fa8864" fill-opacity="0.62"/>
<circle cx="530.4" cy="1247.4" r="5.85" fill="#f8795f" fill-opacity="0.62"/>
<circle cx="537.5" cy="1244.7" r="5.85" fill="#fea974" fill-opacity="0.62"/>
<circle cx="537.5" cy="1266.9" r="5.85" fill="#fde6a8" fill-opacity="0.62"/>
<circle cx="555.5" cy="1265.5" r="5.85" fill="#feb77f" fill-opacity="0.62"/>
<circle cx="552.6" cy="1272.7" r="5.85" fill="#fddda0" fill-opacity="0.62"/>
<g>
<line x1="515.6" y1="1226.6" x2="545.8" y2="1254.6" stroke="#000" stroke-width="4.2"/>
<polygon points="553.1,1261.3 537.9,1255.9 544.9,1253.7 546.5,1246.6" fill="#000"/>
</g>
<rect x="374.8" y="946.5" width="228.3" height="341.9" fill="none" stroke="#111" stroke-width="1.5" />
<text font-size="24.2" text-anchor="start" fill="#111" textLength="147.8" lengthAdjust="spacingAndGlyphs" x="386.5" y="931.9" >Carrizo Plain</text>
<circle cx="655.8" cy="994.3" r="5.85" fill="#aa337b" fill-opacity="0.62"/>
<circle cx="683.2" cy="1017.6" r="5.85" fill="#992d7f" fill-opacity="0.62"/>
<circle cx="678.6" cy="1023.4" r="5.85" fill="#a2307d" fill-opacity="0.62"/>
<circle cx="685.3" cy="1046.6" r="5.85" fill="#ae347b" fill-opacity="0.62"/>
<circle cx="683.8" cy="1091.3" r="5.85" fill="#fa8864" fill-opacity="0.62"/>
<circle cx="709.8" cy="1090.3" r="5.85" fill="#cb4070" fill-opacity="0.62"/>
<circle cx="708.4" cy="1095.7" r="5.85" fill="#d2446d" fill-opacity="0.62"/>
<circle cx="712.5" cy="1121.0" r="5.85" fill="#f7705c" fill-opacity="0.62"/>
<circle cx="713.4" cy="1123.5" r="5.85" fill="#f2685e" fill-opacity="0.62"/>
<circle cx="714.4" cy="1126.2" r="5.85" fill="#f7705c" fill-opacity="0.62"/>
<circle cx="718.8" cy="1135.6" r="5.85" fill="#fa8864" fill-opacity="0.62"/>
<circle cx="743.5" cy="1145.6" r="5.85" fill="#cb4070" fill-opacity="0.62"/>
<circle cx="755.9" cy="1141.8" r="5.85" fill="#de4968" fill-opacity="0.62"/>
<circle cx="738.9" cy="1152.6" r="5.85" fill="#f8795f" fill-opacity="0.62"/>
<circle cx="739.3" cy="1155.3" r="5.85" fill="#fa8864" fill-opacity="0.62"/>
<circle cx="743.1" cy="1159.5" r="5.85" fill="#feb77f" fill-opacity="0.62"/>
<circle cx="746.8" cy="1161.6" r="5.85" fill="#e35166" fill-opacity="0.62"/>
<circle cx="774.6" cy="1167.2" r="5.85" fill="#fecf92" fill-opacity="0.62"/>
<circle cx="763.4" cy="1173.4" r="5.85" fill="#feb77f" fill-opacity="0.62"/>
<circle cx="769.0" cy="1180.9" r="5.85" fill="#fec58b" fill-opacity="0.62"/>
<circle cx="764.9" cy="1179.2" r="5.85" fill="#fead78" fill-opacity="0.62"/>
<g>
<line x1="686.5" y1="1049.4" x2="756.9" y2="1175.8" stroke="#000" stroke-width="4.2"/>
<polygon points="761.8,1184.4 749.1,1174.6 756.4,1174.7 760.1,1168.4" fill="#000"/>
</g>
<rect x="618.4" y="946.5" width="228.3" height="341.9" fill="none" stroke="#111" stroke-width="1.5" />
<text font-size="24.2" text-anchor="start" fill="#111" textLength="178.4" lengthAdjust="spacingAndGlyphs" x="630.1" y="931.9" >Elkhorn Slough</text>
<circle cx="872.2" cy="972.7" r="5.85" fill="#992d7f" fill-opacity="0.62"/>
<circle cx="881.8" cy="977.7" r="5.85" fill="#8c2981" fill-opacity="0.62"/>
<circle cx="889.4" cy="1017.6" r="5.85" fill="#0a071d" fill-opacity="0.62"/>
<circle cx="892.6" cy="1027.5" r="5.85" fill="#952c7f" fill-opacity="0.62"/>
<circle cx="899.2" cy="1026.1" r="5.85" fill="#8c2981" fill-opacity="0.62"/>
<circle cx="900.9" cy="1034.4" r="5.85" fill="#140e36" fill-opacity="0.62"/>
<circle cx="907.1" cy="1033.8" r="5.85" fill="#cb4070" fill-opacity="0.62"/>
<circle cx="915.8" cy="1039.0" r="5.85" fill="#58177b" fill-opacity="0.62"/>
<circle cx="900.2" cy="1046.2" r="5.85" fill="#ae347b" fill-opacity="0.62"/>
<circle cx="905.4" cy="1052.1" r="5.85" fill="#100b2c" fill-opacity="0.62"/>
<circle cx="927.3" cy="1053.5" r="5.85" fill="#3b0f70" fill-opacity="0.62"/>
<circle cx="909.2" cy="1061.2" r="5.85" fill="#060413" fill-opacity="0.62"/>
<circle cx="912.9" cy="1062.9" r="5.85" fill="#060413" fill-opacity="0.62"/>
<circle cx="925.8" cy="1062.9" r="5.85" fill="#a2307d" fill-opacity="0.62"/>
<circle cx="917.9" cy="1072.2" r="5.85" fill="#ea5d62" fill-opacity="0.62"/>
<circle cx="917.5" cy="1077.8" r="5.85" fill="#b73779" fill-opacity="0.62"/>
<circle cx="939.3" cy="1078.4" r="5.85" fill="#58177b" fill-opacity="0.62"/>
<circle cx="934.5" cy="1080.5" r="5.85" fill="#cb4070" fill-opacity="0.62"/>
<circle cx="933.7" cy="1107.1" r="5.85" fill="#de4968" fill-opacity="0.62"/>
<circle cx="936.6" cy="1106.5" r="5.85" fill="#a2307d" fill-opacity="0.62"/>
<circle cx="947.0" cy="1107.5" r="5.85" fill="#de4968" fill-opacity="0.62"/>
<circle cx="955.9" cy="1104.4" r="5.85" fill="#280e53" fill-opacity="0.62"/>
<circle cx="925.8" cy="1117.5" r="5.85" fill="#fea974" fill-opacity="0.62"/>
<circle cx="956.6" cy="1116.5" r="5.85" fill="#e65564" fill-opacity="0.62"/>
<circle cx="948.7" cy="1122.1" r="5.85" fill="#de4968" fill-opacity="0.62"/>
<circle cx="942.4" cy="1127.3" r="5.85" fill="#641a80" fill-opacity="0.62"/>
<circle cx="935.8" cy="1138.7" r="5.85" fill="#feb77f" fill-opacity="0.62"/>
<circle cx="962.6" cy="1141.8" r="5.85" fill="#f7705c" fill-opacity="0.62"/>
<circle cx="959.5" cy="1150.5" r="5.85" fill="#5c187d" fill-opacity="0.62"/>
<circle cx="959.5" cy="1158.4" r="5.85" fill="#fa8864" fill-opacity="0.62"/>
<circle cx="979.6" cy="1177.6" r="5.85" fill="#fea974" fill-opacity="0.62"/>
<circle cx="980.2" cy="1194.8" r="5.85" fill="#fd966a" fill-opacity="0.62"/>
<circle cx="979.4" cy="1199.6" r="5.85" fill="#641a80" fill-opacity="0.62"/>
<g>
<line x1="908.1" y1="1033.8" x2="940.2" y2="1113.5" stroke="#000" stroke-width="4.2"/>
<polygon points="943.9,1122.7 932.5,1111.3 939.7,1112.4 944.2,1106.6" fill="#000"/>
</g>
<rect x="861.8" y="946.5" width="228.3" height="341.9" fill="none" stroke="#111" stroke-width="1.5" />
<text font-size="24.2" text-anchor="start" fill="#111" textLength="150.9" lengthAdjust="spacingAndGlyphs" x="873.5" y="901.6" >Jasper Ridge</text>
<text font-size="24.2" text-anchor="start" fill="#111" textLength="125.6" lengthAdjust="spacingAndGlyphs" x="873.5" y="931.9" >serpentine</text>
<circle cx="1194.9" cy="1077.8" r="5.85" fill="#de4968" fill-opacity="0.62"/>
<circle cx="1213.6" cy="1085.7" r="5.85" fill="#de4968" fill-opacity="0.62"/>
<circle cx="1212.6" cy="1095.1" r="5.85" fill="#ea5d62" fill-opacity="0.62"/>
<circle cx="1225.9" cy="1098.2" r="5.85" fill="#ea5d62" fill-opacity="0.62"/>
<circle cx="1220.3" cy="1103.4" r="5.85" fill="#f2685e" fill-opacity="0.62"/>
<circle cx="1220.3" cy="1108.2" r="5.85" fill="#f7705c" fill-opacity="0.62"/>
<circle cx="1229.6" cy="1107.5" r="5.85" fill="#fa8864" fill-opacity="0.62"/>
<circle cx="1224.2" cy="1119.0" r="5.85" fill="#fed89b" fill-opacity="0.62"/>
<circle cx="1228.0" cy="1120.6" r="5.85" fill="#feb77f" fill-opacity="0.62"/>
<circle cx="1239.0" cy="1135.2" r="5.85" fill="#fecf92" fill-opacity="0.62"/>
<circle cx="1242.9" cy="1138.7" r="5.85" fill="#fed89b" fill-opacity="0.62"/>
<circle cx="1245.0" cy="1143.5" r="5.85" fill="#fecf92" fill-opacity="0.62"/>
<circle cx="1254.6" cy="1139.1" r="5.85" fill="#feb77f" fill-opacity="0.62"/>
<circle cx="1255.0" cy="1151.2" r="5.85" fill="#feb77f" fill-opacity="0.62"/>
<g>
<line x1="1208.9" y1="1089.9" x2="1238.0" y2="1126.2" stroke="#000" stroke-width="4.2"/>
<polygon points="1244.2,1133.9 1230.0,1126.3 1237.3,1125.3 1239.9,1118.4" fill="#000"/>
</g>
<rect x="1105.4" y="946.5" width="228.3" height="341.9" fill="none" stroke="#111" stroke-width="1.5" />
<text font-size="24.2" text-anchor="start" fill="#111" textLength="137.4" lengthAdjust="spacingAndGlyphs" x="1117.1" y="901.6" >McLaughlin</text>
<text font-size="24.2" text-anchor="start" fill="#111" textLength="80.3" lengthAdjust="spacingAndGlyphs" x="1117.1" y="931.9" >annual</text>
<circle cx="1437.1" cy="1076.4" r="5.85" fill="#e35166" fill-opacity="0.62"/>
<circle cx="1452.3" cy="1076.4" r="5.85" fill="#de4968" fill-opacity="0.62"/>
<circle cx="1440.9" cy="1078.4" r="5.85" fill="#ea5d62" fill-opacity="0.62"/>
<circle cx="1458.7" cy="1088.8" r="5.85" fill="#de4968" fill-opacity="0.62"/>
<circle cx="1439.8" cy="1063.3" r="5.85" fill="#fde6a8" fill-opacity="0.62"/>
<circle cx="1449.4" cy="1062.9" r="5.85" fill="#feb77f" fill-opacity="0.62"/>
<circle cx="1452.3" cy="1070.1" r="5.85" fill="#fecf92" fill-opacity="0.62"/>
<circle cx="1450.2" cy="1074.3" r="5.85" fill="#feb77f" fill-opacity="0.62"/>
<circle cx="1448.1" cy="1087.8" r="5.85" fill="#fd966a" fill-opacity="0.62"/>
<g opacity="0.65">
<polygon points="1440.4,1067.6 1447.2,1082.2 1440.8,1078.7 1434.6,1082.6" fill="#333"/>
</g>
<rect x="1349.0" y="946.5" width="228.4" height="341.9" fill="none" stroke="#111" stroke-width="1.5" />
<text font-size="24.2" text-anchor="start" fill="#111" textLength="138.5" lengthAdjust="spacingAndGlyphs" x="1360.7" y="901.6" >McLaughlin</text>
<text font-size="24.2" text-anchor="start" fill="#111" textLength="127.0" lengthAdjust="spacingAndGlyphs" x="1360.7" y="931.9" >serpentine</text>
<circle cx="302.1" cy="1561.2" r="5.85" fill="#d6456b" fill-opacity="0.62"/>
<circle cx="323.9" cy="1591.3" r="5.85" fill="#ea5d62" fill-opacity="0.62"/>
<circle cx="326.6" cy="1594.4" r="5.85" fill="#e35166" fill-opacity="0.62"/>
<circle cx="341.1" cy="1600.2" r="5.85" fill="#cb4070" fill-opacity="0.62"/>
<circle cx="349.2" cy="1607.5" r="5.85" fill="#bf3b76" fill-opacity="0.62"/>
<circle cx="322.9" cy="1605.2" r="5.85" fill="#fd966a" fill-opacity="0.62"/>
<circle cx="332.2" cy="1607.5" r="5.85" fill="#f7705c" fill-opacity="0.62"/>
<circle cx="333.9" cy="1610.0" r="5.85" fill="#f2685e" fill-opacity="0.62"/>
<circle cx="336.4" cy="1612.5" r="5.85" fill="#f7705c" fill-opacity="0.62"/>
<g opacity="0.65">
<polygon points="320.4,1598.2 326.9,1583.5 328.5,1590.6 335.5,1592.7" fill="#333"/>
</g>
<rect x="131.7" y="1351.6" width="228.3" height="341.5" fill="none" stroke="#111" stroke-width="1.5" />
<text font-size="24.2" text-anchor="start" fill="#111" textLength="197.2" lengthAdjust="spacingAndGlyphs" x="143.4" y="1336.1" >Morgan Territory</text>
<line x1="124.1" y1="1409.8" x2="131.7" y2="1409.8" stroke="#1a1a1a" stroke-width="1.4" />
<text font-size="20.5" text-anchor="end" fill="#111" textLength="42.7" lengthAdjust="spacingAndGlyphs" x="113.7" y="1417.8" >700</text>
<line x1="124.1" y1="1515.0" x2="131.7" y2="1515.0" stroke="#1a1a1a" stroke-width="1.4" />
<text font-size="20.5" text-anchor="end" fill="#111" textLength="42.7" lengthAdjust="spacingAndGlyphs" x="113.7" y="1523.0" >600</text>
<line x1="124.1" y1="1620.4" x2="131.7" y2="1620.4" stroke="#1a1a1a" stroke-width="1.4" />
<text font-size="20.5" text-anchor="end" fill="#111" textLength="42.7" lengthAdjust="spacingAndGlyphs" x="113.7" y="1628.4" >500</text>
<line x1="156.1" y1="1693.1" x2="156.1" y2="1700.5" stroke="#1a1a1a" stroke-width="1.4" />
<text font-size="20.5" text-anchor="middle" fill="#111" textLength="40.2" lengthAdjust="spacingAndGlyphs" x="156.1" y="1728.2" >14.5</text>
<line x1="210.6" y1="1693.1" x2="210.6" y2="1700.5" stroke="#1a1a1a" stroke-width="1.4" />
<text font-size="20.5" text-anchor="middle" fill="#111" textLength="40.2" lengthAdjust="spacingAndGlyphs" x="210.6" y="1728.2" >15.0</text>
<line x1="265.1" y1="1693.1" x2="265.1" y2="1700.5" stroke="#1a1a1a" stroke-width="1.4" />
<text font-size="20.5" text-anchor="middle" fill="#111" textLength="40.2" lengthAdjust="spacingAndGlyphs" x="265.1" y="1728.2" >15.5</text>
<line x1="319.6" y1="1693.1" x2="319.6" y2="1700.5" stroke="#1a1a1a" stroke-width="1.4" />
<text font-size="20.5" text-anchor="middle" fill="#111" textLength="40.2" lengthAdjust="spacingAndGlyphs" x="319.6" y="1728.2" >16.0</text>
<circle cx="511.5" cy="1557.6" r="5.85" fill="#b73779" fill-opacity="0.62"/>
<circle cx="519.8" cy="1556.4" r="5.85" fill="#cb4070" fill-opacity="0.62"/>
<circle cx="517.7" cy="1570.5" r="5.85" fill="#f8795f" fill-opacity="0.62"/>
<circle cx="514.6" cy="1573.6" r="5.85" fill="#f2685e" fill-opacity="0.62"/>
<circle cx="528.5" cy="1569.5" r="5.85" fill="#e35166" fill-opacity="0.62"/>
<circle cx="526.0" cy="1578.8" r="5.85" fill="#cb4070" fill-opacity="0.62"/>
<circle cx="546.8" cy="1599.2" r="5.85" fill="#fa8864" fill-opacity="0.62"/>
<circle cx="554.1" cy="1600.0" r="5.85" fill="#fa8864" fill-opacity="0.62"/>
<g>
<line x1="508.4" y1="1552.9" x2="530.0" y2="1575.8" stroke="#000" stroke-width="4.2"/>
<polygon points="536.8,1583.0 522.1,1576.6 529.2,1574.9 531.3,1567.9" fill="#000"/>
</g>
<rect x="374.8" y="1351.6" width="228.3" height="341.5" fill="none" stroke="#111" stroke-width="1.5" />
<text font-size="24.2" text-anchor="start" fill="#111" textLength="204.9" lengthAdjust="spacingAndGlyphs" x="386.5" y="1336.1" >Pleasanton Ridge</text>
<line x1="399.2" y1="1693.1" x2="399.2" y2="1700.5" stroke="#1a1a1a" stroke-width="1.4" />
<text font-size="20.5" text-anchor="middle" fill="#111" textLength="40.2" lengthAdjust="spacingAndGlyphs" x="399.2" y="1728.2" >14.5</text>
<line x1="453.7" y1="1693.1" x2="453.7" y2="1700.5" stroke="#1a1a1a" stroke-width="1.4" />
<text font-size="20.5" text-anchor="middle" fill="#111" textLength="40.2" lengthAdjust="spacingAndGlyphs" x="453.7" y="1728.2" >15.0</text>
<line x1="508.2" y1="1693.1" x2="508.2" y2="1700.5" stroke="#1a1a1a" stroke-width="1.4" />
<text font-size="20.5" text-anchor="middle" fill="#111" textLength="40.2" lengthAdjust="spacingAndGlyphs" x="508.2" y="1728.2" >15.5</text>
<line x1="562.7" y1="1693.1" x2="562.7" y2="1700.5" stroke="#1a1a1a" stroke-width="1.4" />
<text font-size="20.5" text-anchor="middle" fill="#111" textLength="40.2" lengthAdjust="spacingAndGlyphs" x="562.7" y="1728.2" >16.0</text>
<circle cx="730.6" cy="1559.3" r="5.85" fill="#f2685e" fill-opacity="0.62"/>
<circle cx="750.3" cy="1549.7" r="5.85" fill="#f8795f" fill-opacity="0.62"/>
<circle cx="754.1" cy="1563.7" r="5.85" fill="#cb4070" fill-opacity="0.62"/>
<circle cx="768.6" cy="1569.5" r="5.85" fill="#fa8864" fill-opacity="0.62"/>
<circle cx="760.1" cy="1579.2" r="5.85" fill="#ea5d62" fill-opacity="0.62"/>
<circle cx="772.2" cy="1574.3" r="5.85" fill="#f8795f" fill-opacity="0.62"/>
<circle cx="774.2" cy="1577.8" r="5.85" fill="#fa8864" fill-opacity="0.62"/>
<circle cx="771.1" cy="1572.6" r="5.85" fill="#f7705c" fill-opacity="0.62"/>
<g opacity="0.65">
<polygon points="767.0,1576.3 752.2,1570.0 759.3,1568.3 761.3,1561.3" fill="#333"/>
</g>
<rect x="618.4" y="1351.6" width="228.3" height="341.5" fill="none" stroke="#111" stroke-width="1.5" />
<text font-size="24.2" text-anchor="start" fill="#111" textLength="69.3" lengthAdjust="spacingAndGlyphs" x="630.1" y="1336.1" >Sunol</text>
<line x1="642.8" y1="1693.1" x2="642.8" y2="1700.5" stroke="#1a1a1a" stroke-width="1.4" />
<text font-size="20.5" text-anchor="middle" fill="#111" textLength="40.2" lengthAdjust="spacingAndGlyphs" x="642.8" y="1728.2" >14.5</text>
<line x1="697.3" y1="1693.1" x2="697.3" y2="1700.5" stroke="#1a1a1a" stroke-width="1.4" />
<text font-size="20.5" text-anchor="middle" fill="#111" textLength="40.2" lengthAdjust="spacingAndGlyphs" x="697.3" y="1728.2" >15.0</text>
<line x1="751.8" y1="1693.1" x2="751.8" y2="1700.5" stroke="#1a1a1a" stroke-width="1.4" />
<text font-size="20.5" text-anchor="middle" fill="#111" textLength="40.2" lengthAdjust="spacingAndGlyphs" x="751.8" y="1728.2" >15.5</text>
<line x1="806.3" y1="1693.1" x2="806.3" y2="1700.5" stroke="#1a1a1a" stroke-width="1.4" />
<text font-size="20.5" text-anchor="middle" fill="#111" textLength="40.2" lengthAdjust="spacingAndGlyphs" x="806.3" y="1728.2" >16.0</text>
<circle cx="909.0" cy="1535.4" r="5.85" fill="#cb4070" fill-opacity="0.62"/>
<circle cx="983.8" cy="1508.8" r="5.85" fill="#952c7f" fill-opacity="0.62"/>
<circle cx="959.1" cy="1526.3" r="5.85" fill="#fe9f6d" fill-opacity="0.62"/>
<circle cx="981.3" cy="1540.0" r="5.85" fill="#fc9168" fill-opacity="0.62"/>
<circle cx="995.4" cy="1549.7" r="5.85" fill="#de4968" fill-opacity="0.62"/>
<circle cx="999.8" cy="1565.3" r="5.85" fill="#ea5d62" fill-opacity="0.62"/>
<circle cx="1010.0" cy="1569.5" r="5.85" fill="#d2446d" fill-opacity="0.62"/>
<circle cx="1014.1" cy="1573.0" r="5.85" fill="#bf3b76" fill-opacity="0.62"/>
<circle cx="1018.3" cy="1579.5" r="5.85" fill="#992d7f" fill-opacity="0.62"/>
<circle cx="1014.9" cy="1591.3" r="5.85" fill="#e65564" fill-opacity="0.62"/>
<circle cx="1029.3" cy="1591.7" r="5.85" fill="#a2307d" fill-opacity="0.62"/>
<circle cx="1026.0" cy="1594.4" r="5.85" fill="#ea5d62" fill-opacity="0.62"/>
<circle cx="1038.2" cy="1597.5" r="5.85" fill="#f7705c" fill-opacity="0.62"/>
<circle cx="1043.2" cy="1603.4" r="5.85" fill="#f8795f" fill-opacity="0.62"/>
<g opacity="0.65">
<polygon points="996.5,1560.5 1006.9,1548.3 1006.4,1555.6 1012.5,1559.6" fill="#333"/>
</g>
<rect x="861.8" y="1351.6" width="228.3" height="341.5" fill="none" stroke="#111" stroke-width="1.5" />
<text font-size="24.2" text-anchor="start" fill="#111" textLength="184.2" lengthAdjust="spacingAndGlyphs" x="873.5" y="1336.1" >Swanton Ranch</text>
<line x1="886.2" y1="1693.1" x2="886.2" y2="1700.5" stroke="#1a1a1a" stroke-width="1.4" />
<text font-size="20.5" text-anchor="middle" fill="#111" textLength="40.2" lengthAdjust="spacingAndGlyphs" x="886.2" y="1728.2" >14.5</text>
<line x1="940.7" y1="1693.1" x2="940.7" y2="1700.5" stroke="#1a1a1a" stroke-width="1.4" />
<text font-size="20.5" text-anchor="middle" fill="#111" textLength="40.2" lengthAdjust="spacingAndGlyphs" x="940.7" y="1728.2" >15.0</text>
<line x1="995.2" y1="1693.1" x2="995.2" y2="1700.5" stroke="#1a1a1a" stroke-width="1.4" />
<text font-size="20.5" text-anchor="middle" fill="#111" textLength="40.2" lengthAdjust="spacingAndGlyphs" x="995.2" y="1728.2" >15.5</text>
<line x1="1049.7" y1="1693.1" x2="1049.7" y2="1700.5" stroke="#1a1a1a" stroke-width="1.4" />
<text font-size="20.5" text-anchor="middle" fill="#111" textLength="40.2" lengthAdjust="spacingAndGlyphs" x="1049.7" y="1728.2" >16.0</text>
<circle cx="1169.4" cy="1508.6" r="5.85" fill="#a2307d" fill-opacity="0.62"/>
<circle cx="1187.1" cy="1527.3" r="5.85" fill="#952c7f" fill-opacity="0.62"/>
<circle cx="1211.4" cy="1535.8" r="5.85" fill="#b73779" fill-opacity="0.62"/>
<circle cx="1226.3" cy="1539.4" r="5.85" fill="#b73779" fill-opacity="0.62"/>
<circle cx="1225.9" cy="1542.5" r="5.85" fill="#cb4070" fill-opacity="0.62"/>
<circle cx="1231.1" cy="1548.7" r="5.85" fill="#d6456b" fill-opacity="0.62"/>
<circle cx="1234.6" cy="1557.4" r="5.85" fill="#ea5d62" fill-opacity="0.62"/>
<circle cx="1249.2" cy="1559.5" r="5.85" fill="#e35166" fill-opacity="0.62"/>
<circle cx="1243.6" cy="1562.8" r="5.85" fill="#d6456b" fill-opacity="0.62"/>
<circle cx="1231.1" cy="1567.8" r="5.85" fill="#f8795f" fill-opacity="0.62"/>
<circle cx="1250.4" cy="1577.4" r="5.85" fill="#f2685e" fill-opacity="0.62"/>
<circle cx="1284.5" cy="1590.3" r="5.85" fill="#fe9f6d" fill-opacity="0.62"/>
<circle cx="1294.5" cy="1598.2" r="5.85" fill="#fa8864" fill-opacity="0.62"/>
<circle cx="1304.7" cy="1609.6" r="5.85" fill="#f97e61" fill-opacity="0.62"/>
<g>
<line x1="1193.3" y1="1524.2" x2="1275.3" y2="1588.9" stroke="#000" stroke-width="4.2"/>
<polygon points="1283.1,1595.0 1267.5,1590.8 1274.3,1588.2 1275.3,1580.9" fill="#000"/>
</g>
<rect x="1105.4" y="1351.6" width="228.3" height="341.5" fill="none" stroke="#111" stroke-width="1.5" />
<text font-size="24.2" text-anchor="start" fill="#111" textLength="171.1" lengthAdjust="spacingAndGlyphs" x="1117.1" y="1336.1" >UC Santa Cruz</text>
<line x1="1129.8" y1="1693.1" x2="1129.8" y2="1700.5" stroke="#1a1a1a" stroke-width="1.4" />
<text font-size="20.5" text-anchor="middle" fill="#111" textLength="40.2" lengthAdjust="spacingAndGlyphs" x="1129.8" y="1728.2" >14.5</text>
<line x1="1184.3" y1="1693.1" x2="1184.3" y2="1700.5" stroke="#1a1a1a" stroke-width="1.4" />
<text font-size="20.5" text-anchor="middle" fill="#111" textLength="40.2" lengthAdjust="spacingAndGlyphs" x="1184.3" y="1728.2" >15.0</text>
<line x1="1238.8" y1="1693.1" x2="1238.8" y2="1700.5" stroke="#1a1a1a" stroke-width="1.4" />
<text font-size="20.5" text-anchor="middle" fill="#111" textLength="40.2" lengthAdjust="spacingAndGlyphs" x="1238.8" y="1728.2" >15.5</text>
<line x1="1293.3" y1="1693.1" x2="1293.3" y2="1700.5" stroke="#1a1a1a" stroke-width="1.4" />
<text font-size="20.5" text-anchor="middle" fill="#111" textLength="40.2" lengthAdjust="spacingAndGlyphs" x="1293.3" y="1728.2" >16.0</text>
<circle cx="1508.4" cy="1578.8" r="5.85" fill="#d6456b" fill-opacity="0.62"/>
<circle cx="1514.0" cy="1576.8" r="5.85" fill="#cb4070" fill-opacity="0.62"/>
<circle cx="1520.2" cy="1580.9" r="5.85" fill="#cb4070" fill-opacity="0.62"/>
<circle cx="1522.9" cy="1578.8" r="5.85" fill="#b73779" fill-opacity="0.62"/>
<circle cx="1528.1" cy="1585.1" r="5.85" fill="#ae347b" fill-opacity="0.62"/>
<circle cx="1521.9" cy="1600.6" r="5.85" fill="#e35166" fill-opacity="0.62"/>
<circle cx="1526.1" cy="1599.6" r="5.85" fill="#ea5d62" fill-opacity="0.62"/>
<circle cx="1530.2" cy="1607.9" r="5.85" fill="#f7705c" fill-opacity="0.62"/>
<circle cx="1540.6" cy="1607.9" r="5.85" fill="#fe9f6d" fill-opacity="0.62"/>
<circle cx="1543.1" cy="1617.7" r="5.85" fill="#fa8864" fill-opacity="0.62"/>
<g>
<line x1="1511.1" y1="1578.2" x2="1529.9" y2="1606.3" stroke="#000" stroke-width="4.2"/>
<polygon points="1535.4,1614.6 1521.9,1605.8 1529.2,1605.3 1532.4,1598.8" fill="#000"/>
</g>
<rect x="1349.0" y="1351.6" width="228.4" height="341.5" fill="none" stroke="#111" stroke-width="1.5" />
<text font-size="24.2" text-anchor="start" fill="#111" textLength="150.5" lengthAdjust="spacingAndGlyphs" x="1360.7" y="1336.1" >Vasco Caves</text>
<line x1="1373.4" y1="1693.1" x2="1373.4" y2="1700.5" stroke="#1a1a1a" stroke-width="1.4" />
<text font-size="20.5" text-anchor="middle" fill="#111" textLength="40.2" lengthAdjust="spacingAndGlyphs" x="1373.4" y="1728.2" >14.5</text>
<line x1="1427.9" y1="1693.1" x2="1427.9" y2="1700.5" stroke="#1a1a1a" stroke-width="1.4" />
<text font-size="20.5" text-anchor="middle" fill="#111" textLength="40.2" lengthAdjust="spacingAndGlyphs" x="1427.9" y="1728.2" >15.0</text>
<line x1="1482.4" y1="1693.1" x2="1482.4" y2="1700.5" stroke="#1a1a1a" stroke-width="1.4" />
<text font-size="20.5" text-anchor="middle" fill="#111" textLength="40.2" lengthAdjust="spacingAndGlyphs" x="1482.4" y="1728.2" >15.5</text>
<line x1="1536.9" y1="1693.1" x2="1536.9" y2="1700.5" stroke="#1a1a1a" stroke-width="1.4" />
<text font-size="20.5" text-anchor="middle" fill="#111" textLength="40.2" lengthAdjust="spacingAndGlyphs" x="1536.9" y="1728.2" >16.0</text>
<text font-size="24.2" text-anchor="start" fill="#111" textLength="91.6" lengthAdjust="spacingAndGlyphs" x="805.1" y="1769.3" >CTI (°C)</text>
<text font-size="24.2" text-anchor="middle" fill="#111" textLength="107.8" lengthAdjust="spacingAndGlyphs" transform="translate(46.9,1318.6) rotate(-90)" x="0" y="0" >CPI (mm)</text>
<text font-size="24.2" text-anchor="start" fill="#111" textLength="146.4" lengthAdjust="spacingAndGlyphs" x="374.2" y="1827.5" >Significance</text>
<g>
<line x1="563.6" y1="1821.2" x2="589.4" y2="1821.2" stroke="#888888" stroke-width="4.1"/>
<polygon points="599.3,1821.2 584.5,1827.3 588.2,1821.2 584.5,1815.1" fill="#888888"/>
</g>
<text font-size="24.2" text-anchor="start" fill="#111" textLength="34.4" lengthAdjust="spacingAndGlyphs" x="612.7" y="1827.5" >NS</text>
<g>
<line x1="664.7" y1="1821.2" x2="690.1" y2="1821.2" stroke="#000" stroke-width="4.4"/>
<polygon points="700.0,1821.2 685.2,1827.4 688.9,1821.2 685.2,1815.0" fill="#000"/>
</g>
<text font-size="24.2" text-anchor="start" fill="#111" textLength="126.1" lengthAdjust="spacingAndGlyphs" x="713.4" y="1827.5" >Significant</text>
<text font-size="24.2" text-anchor="start" fill="#111" textLength="47.4" lengthAdjust="spacingAndGlyphs" x="864.9" y="1851.2" >Year</text>
<defs><linearGradient id="mg" x1="0" x2="1" y1="0" y2="0"><stop offset="0.00" stop-color="#000004"/><stop offset="0.05" stop-color="#0a071d"/><stop offset="0.10" stop-color="#140e36"/><stop offset="0.15" stop-color="#280e53"/><stop offset="0.20" stop-color="#3b0f70"/><stop offset="0.25" stop-color="#501478"/><stop offset="0.30" stop-color="#641a80"/><stop offset="0.35" stop-color="#782180"/><stop offset="0.40" stop-color="#8c2981"/><stop offset="0.45" stop-color="#a2307d"/><stop offset="0.50" stop-color="#b73779"/><stop offset="0.55" stop-color="#cb4070"/><stop offset="0.60" stop-color="#de4968"/><stop offset="0.65" stop-color="#ea5d62"/><stop offset="0.70" stop-color="#f7705c"/><stop offset="0.75" stop-color="#fa8864"/><stop offset="0.80" stop-color="#fe9f6d"/><stop offset="0.85" stop-color="#feb77f"/><stop offset="0.90" stop-color="#fecf92"/><stop offset="0.95" stop-color="#fde6a8"/><stop offset="1.00" stop-color="#fcfdbf"/></linearGradient></defs>
<rect x="925.1" y="1799.2" width="364.6" height="44.8" fill="url(#mg)"/>
<line x1="992.6" y1="1835.0" x2="992.6" y2="1844.0" stroke="#fff" stroke-width="1.1" />
<text font-size="22.8" text-anchor="middle" fill="#111" textLength="57.9" lengthAdjust="spacingAndGlyphs" x="992.1" y="1872.3" >1990</text>
<line x1="1088.4" y1="1835.0" x2="1088.4" y2="1844.0" stroke="#fff" stroke-width="1.1" />
<text font-size="22.8" text-anchor="middle" fill="#111" textLength="57.9" lengthAdjust="spacingAndGlyphs" x="1087.9" y="1872.3" >2000</text>
<line x1="1183.5" y1="1835.0" x2="1183.5" y2="1844.0" stroke="#fff" stroke-width="1.1" />
<text font-size="22.8" text-anchor="middle" fill="#111" textLength="57.9" lengthAdjust="spacingAndGlyphs" x="1183.0" y="1872.3" >2010</text>
<line x1="1279.0" y1="1835.0" x2="1279.0" y2="1844.0" stroke="#fff" stroke-width="1.1" />
<text font-size="22.8" text-anchor="middle" fill="#111" textLength="57.9" lengthAdjust="spacingAndGlyphs" x="1278.5" y="1872.3" >2020</text>
<text font-size="36.5" text-anchor="start" fill="#000" font-weight="bold" textLength="23.9" lengthAdjust="spacingAndGlyphs" x="-0.2" y="895.0" stroke="#000" stroke-width="1.7" stroke-linejoin="round">c</text>
</g>
<g id="pd">
<rect x="131.7" y="1947.7" width="471.7" height="373.1" fill="#fcf5ea" stroke="none" stroke-width="0" />
<g opacity="0.5">
<line x1="251.8" y1="2028.6" x2="219.9" y2="2007.1" stroke="#7d7d7d" stroke-width="4.0"/>
<polygon points="211.9,2001.6 227.3,2004.7 220.9,2007.7 220.5,2014.8" fill="#7d7d7d"/>
</g>
<g opacity="0.5">
<line x1="338.5" y1="2105.2" x2="331.0" y2="2100.2" stroke="#7d7d7d" stroke-width="4.0"/>
<polygon points="322.9,2094.8 338.4,2097.8 332.0,2100.8 331.6,2107.9" fill="#7d7d7d"/>
</g>
<g opacity="0.5">
<line x1="433.0" y1="2176.6" x2="429.9" y2="2177.7" stroke="#7d7d7d" stroke-width="4.0"/>
<polygon points="425.8,2179.2 431.0,2174.5 430.4,2177.6 432.8,2179.6" fill="#7d7d7d"/>
</g>
<g opacity="0.5">
<line x1="559.3" y1="2285.4" x2="574.2" y2="2297.7" stroke="#7d7d7d" stroke-width="4.0"/>
<polygon points="581.7,2303.9 566.6,2299.4 573.3,2297.0 574.4,2290.0" fill="#7d7d7d"/>
</g>
<circle cx="211.9" cy="2001.6" r="6.0" fill="#f20000"/>
<circle cx="322.9" cy="2094.8" r="6.0" fill="#f20000"/>
<circle cx="425.8" cy="2179.2" r="6.0" fill="#f20000"/>
<circle cx="581.7" cy="2303.9" r="6.0" fill="#f20000"/>
<circle cx="251.8" cy="2028.6" r="6.0" fill="#000"/>
<circle cx="338.5" cy="2105.2" r="6.0" fill="#000"/>
<circle cx="433.0" cy="2176.6" r="6.0" fill="#000"/>
<circle cx="559.3" cy="2285.4" r="6.0" fill="#000"/>
<rect x="131.7" y="1947.7" width="471.7" height="373.1" fill="none" stroke="#111" stroke-width="1.5" />
<text font-size="24.2" text-anchor="start" fill="#111" textLength="87.4" lengthAdjust="spacingAndGlyphs" x="143.1" y="1932.3" >Phase 1</text>
<line x1="231.9" y1="2320.8" x2="231.9" y2="2328.2" stroke="#1a1a1a" stroke-width="1.4" />
<text font-size="20.5" text-anchor="middle" fill="#111" textLength="52.4" lengthAdjust="spacingAndGlyphs" x="231.9" y="2355.6" >15.25</text>
<line x1="363.5" y1="2320.8" x2="363.5" y2="2328.2" stroke="#1a1a1a" stroke-width="1.4" />
<text font-size="20.5" text-anchor="middle" fill="#111" textLength="52.4" lengthAdjust="spacingAndGlyphs" x="363.5" y="2355.6" >15.50</text>
<line x1="495.2" y1="2320.8" x2="495.2" y2="2328.2" stroke="#1a1a1a" stroke-width="1.4" />
<text font-size="20.5" text-anchor="middle" fill="#111" textLength="52.4" lengthAdjust="spacingAndGlyphs" x="495.2" y="2355.6" >15.75</text>
<rect x="618.2" y="1947.7" width="472.1" height="373.1" fill="#ffe3c0" stroke="none" stroke-width="0" />
<g opacity="0.5">
<line x1="648.1" y1="1964.3" x2="642.6" y2="1981.3" stroke="#7d7d7d" stroke-width="4.0"/>
<polygon points="639.6,1990.6 638.2,1974.9 642.9,1980.2 649.8,1978.6" fill="#7d7d7d"/>
</g>
<g opacity="0.5">
<line x1="673.1" y1="1977.6" x2="761.1" y2="2045.7" stroke="#7d7d7d" stroke-width="4.0"/>
<polygon points="768.8,2051.6 753.6,2047.6 760.2,2045.0 761.1,2037.9" fill="#7d7d7d"/>
</g>
<g opacity="0.5">
<line x1="717.5" y1="2073.4" x2="695.5" y2="2057.3" stroke="#7d7d7d" stroke-width="4.0"/>
<polygon points="687.7,2051.6 703.0,2055.2 696.5,2058.0 695.8,2065.1" fill="#7d7d7d"/>
</g>
<g opacity="0.5">
<line x1="784.1" y1="2075.6" x2="821.2" y2="2104.4" stroke="#7d7d7d" stroke-width="4.0"/>
<polygon points="828.9,2110.4 813.7,2106.3 820.3,2103.7 821.2,2096.7" fill="#7d7d7d"/>
</g>
<g opacity="0.5">
<line x1="794.8" y1="2102.9" x2="800.8" y2="2099.3" stroke="#7d7d7d" stroke-width="4.0"/>
<polygon points="808.8,2094.5 799.9,2106.6 799.9,2099.9 793.9,2096.7" fill="#7d7d7d"/>
</g>
<g opacity="0.5">
<line x1="880.8" y1="2209.1" x2="850.0" y2="2150.2" stroke="#7d7d7d" stroke-width="4.0"/>
<polygon points="845.5,2141.6 857.6,2151.6 850.5,2151.2 846.8,2157.2" fill="#7d7d7d"/>
</g>
<g opacity="0.5">
<line x1="897.4" y1="2174.4" x2="914.5" y2="2194.5" stroke="#7d7d7d" stroke-width="4.0"/>
<polygon points="920.8,2201.9 906.8,2194.8 913.8,2193.6 916.1,2186.9" fill="#7d7d7d"/>
</g>
<circle cx="639.6" cy="1990.6" r="6.0" fill="#f20000"/>
<circle cx="768.8" cy="2051.6" r="6.0" fill="#f20000"/>
<circle cx="687.7" cy="2051.6" r="6.0" fill="#f20000"/>
<circle cx="828.9" cy="2110.4" r="6.0" fill="#f20000"/>
<circle cx="808.8" cy="2094.5" r="6.0" fill="#f20000"/>
<circle cx="845.5" cy="2141.6" r="6.0" fill="#f20000"/>
<circle cx="920.8" cy="2201.9" r="6.0" fill="#f20000"/>
<circle cx="648.1" cy="1964.3" r="6.0" fill="#000"/>
<circle cx="673.1" cy="1977.6" r="6.0" fill="#000"/>
<circle cx="717.5" cy="2073.4" r="6.0" fill="#000"/>
<circle cx="784.1" cy="2075.6" r="6.0" fill="#000"/>
<circle cx="794.8" cy="2102.9" r="6.0" fill="#000"/>
<circle cx="880.8" cy="2209.1" r="6.0" fill="#000"/>
<circle cx="897.4" cy="2174.4" r="6.0" fill="#000"/>
<rect x="618.2" y="1947.7" width="472.1" height="373.1" fill="none" stroke="#111" stroke-width="1.5" />
<text font-size="24.2" text-anchor="start" fill="#111" textLength="87.4" lengthAdjust="spacingAndGlyphs" x="629.6" y="1932.3" >Phase 2</text>
<line x1="718.8" y1="2320.8" x2="718.8" y2="2328.2" stroke="#1a1a1a" stroke-width="1.4" />
<text font-size="20.5" text-anchor="middle" fill="#111" textLength="52.4" lengthAdjust="spacingAndGlyphs" x="718.8" y="2355.6" >15.25</text>
<line x1="850.3" y1="2320.8" x2="850.3" y2="2328.2" stroke="#1a1a1a" stroke-width="1.4" />
<text font-size="20.5" text-anchor="middle" fill="#111" textLength="52.4" lengthAdjust="spacingAndGlyphs" x="850.3" y="2355.6" >15.50</text>
<line x1="982.5" y1="2320.8" x2="982.5" y2="2328.2" stroke="#1a1a1a" stroke-width="1.4" />
<text font-size="20.5" text-anchor="middle" fill="#111" textLength="52.4" lengthAdjust="spacingAndGlyphs" x="982.5" y="2355.6" >15.75</text>
<rect x="1105.3" y="1947.7" width="472.1" height="373.1" fill="#ffd385" stroke="none" stroke-width="0" />
<circle cx="1270.9" cy="2062.3" r="6.0" fill="#f20000"/>
<circle cx="1249.4" cy="2121.4" r="6.0" fill="#f20000"/>
<circle cx="1314.0" cy="2153.2" r="6.0" fill="#f20000"/>
<circle cx="1368.6" cy="2189.9" r="6.0" fill="#f20000"/>
<circle cx="1435.5" cy="2230.2" r="6.0" fill="#f20000"/>
<g>
<line x1="1165.3" y1="1977.6" x2="1263.3" y2="2056.3" stroke="#000" stroke-width="4.2"/>
<polygon points="1270.9,2062.3 1255.8,2057.9 1262.4,2055.5 1263.3,2048.6" fill="#000"/>
</g>
<g>
<line x1="1194.6" y1="2043.8" x2="1243.8" y2="2113.5" stroke="#000" stroke-width="4.2"/>
<polygon points="1249.4,2121.4 1236.2,2113.1 1243.1,2112.5 1246.0,2106.1" fill="#000"/>
</g>
<g>
<line x1="1237.7" y1="2108.4" x2="1305.7" y2="2148.3" stroke="#000" stroke-width="4.2"/>
<polygon points="1314.0,2153.2 1298.5,2151.1 1304.7,2147.7 1304.6,2140.7" fill="#000"/>
</g>
<g>
<line x1="1255.9" y1="2115.3" x2="1360.5" y2="2184.6" stroke="#000" stroke-width="4.2"/>
<polygon points="1368.6,2189.9 1353.2,2186.9 1359.5,2183.9 1359.8,2176.9" fill="#000"/>
</g>
<g>
<line x1="1390.0" y1="2171.1" x2="1429.5" y2="2222.5" stroke="#000" stroke-width="4.2"/>
<polygon points="1435.5,2230.2 1421.9,2222.4 1428.8,2221.6 1431.4,2215.0" fill="#000"/>
</g>
<circle cx="1165.3" cy="1977.6" r="6.0" fill="#000"/>
<circle cx="1194.6" cy="2043.8" r="6.0" fill="#000"/>
<circle cx="1237.7" cy="2108.4" r="6.0" fill="#000"/>
<circle cx="1255.9" cy="2115.3" r="6.0" fill="#000"/>
<circle cx="1390.0" cy="2171.1" r="6.0" fill="#000"/>
<rect x="1105.3" y="1947.7" width="472.1" height="373.1" fill="none" stroke="#111" stroke-width="1.5" />
<text font-size="24.2" text-anchor="start" fill="#111" textLength="87.4" lengthAdjust="spacingAndGlyphs" x="1116.7" y="1932.3" >Phase 3</text>
<line x1="1205.9" y1="2320.8" x2="1205.9" y2="2328.2" stroke="#1a1a1a" stroke-width="1.4" />
<text font-size="20.5" text-anchor="middle" fill="#111" textLength="52.4" lengthAdjust="spacingAndGlyphs" x="1205.9" y="2355.6" >15.25</text>
<line x1="1337.7" y1="2320.8" x2="1337.7" y2="2328.2" stroke="#1a1a1a" stroke-width="1.4" />
<text font-size="20.5" text-anchor="middle" fill="#111" textLength="52.4" lengthAdjust="spacingAndGlyphs" x="1337.7" y="2355.6" >15.50</text>
<line x1="1469.6" y1="2320.8" x2="1469.6" y2="2328.2" stroke="#1a1a1a" stroke-width="1.4" />
<text font-size="20.5" text-anchor="middle" fill="#111" textLength="52.4" lengthAdjust="spacingAndGlyphs" x="1469.6" y="2355.6" >15.75</text>
<line x1="124.1" y1="1972.9" x2="131.7" y2="1972.9" stroke="#1a1a1a" stroke-width="1.4" />
<text font-size="20.5" text-anchor="end" fill="#111" textLength="42.7" lengthAdjust="spacingAndGlyphs" x="113.3" y="1980.9" >600</text>
<line x1="124.1" y1="2056.7" x2="131.7" y2="2056.7" stroke="#1a1a1a" stroke-width="1.4" />
<text font-size="20.5" text-anchor="end" fill="#111" textLength="42.7" lengthAdjust="spacingAndGlyphs" x="113.3" y="2064.7" >580</text>
<line x1="124.1" y1="2140.4" x2="131.7" y2="2140.4" stroke="#1a1a1a" stroke-width="1.4" />
<text font-size="20.5" text-anchor="end" fill="#111" textLength="42.7" lengthAdjust="spacingAndGlyphs" x="113.3" y="2148.4" >560</text>
<line x1="124.1" y1="2224.2" x2="131.7" y2="2224.2" stroke="#1a1a1a" stroke-width="1.4" />
<text font-size="20.5" text-anchor="end" fill="#111" textLength="42.7" lengthAdjust="spacingAndGlyphs" x="113.3" y="2232.2" >540</text>
<line x1="124.1" y1="2308.7" x2="131.7" y2="2308.7" stroke="#1a1a1a" stroke-width="1.4" />
<text font-size="20.5" text-anchor="end" fill="#111" textLength="42.7" lengthAdjust="spacingAndGlyphs" x="113.3" y="2316.7" >520</text>
<text font-size="24.2" text-anchor="start" fill="#111" textLength="91.7" lengthAdjust="spacingAndGlyphs" x="808.6" y="2396.6" >CTI (°C)</text>
<text font-size="24.2" text-anchor="middle" fill="#111" textLength="107.8" lengthAdjust="spacingAndGlyphs" transform="translate(46.3,2133.6) rotate(-90)" x="0" y="0" >CPI (mm)</text>
<text font-size="24.2" text-anchor="start" fill="#111" textLength="144.9" lengthAdjust="spacingAndGlyphs" x="340.0" y="2457.0" >Significance</text>
<g>
<line x1="522.0" y1="2449.6" x2="547.8" y2="2449.6" stroke="#bdbdbd" stroke-width="3.9"/>
<polygon points="557.7,2449.6 542.9,2455.7 546.6,2449.6 542.9,2443.5" fill="#bdbdbd"/>
</g>
<text font-size="24.2" text-anchor="start" fill="#111" textLength="33.4" lengthAdjust="spacingAndGlyphs" x="571.5" y="2457.0" >NS</text>
<g>
<line x1="623.6" y1="2449.6" x2="647.8" y2="2449.6" stroke="#000" stroke-width="4.3"/>
<polygon points="657.7,2449.6 642.9,2455.8 646.6,2449.6 642.9,2443.4" fill="#000"/>
</g>
<text font-size="24.2" text-anchor="start" fill="#111" textLength="125.1" lengthAdjust="spacingAndGlyphs" x="670.2" y="2457.0" >Significant</text>
<text font-size="24.2" text-anchor="start" fill="#111" textLength="120.9" lengthAdjust="spacingAndGlyphs" x="832.3" y="2457.0" >Treatment</text>
<circle cx="1002.9" cy="2449.5" r="6.0" fill="#000"/>
<text font-size="24.2" text-anchor="start" fill="#111" textLength="99.8" lengthAdjust="spacingAndGlyphs" x="1021.3" y="2457.0" >Ambient</text>
<circle cx="1170.1" cy="2449.5" r="6.0" fill="#f20000"/>
<text font-size="24.2" text-anchor="start" fill="#111" textLength="106.3" lengthAdjust="spacingAndGlyphs" x="1185.3" y="2457.0" >Warming</text>
<text font-size="36.5" text-anchor="start" fill="#000" font-weight="bold" textLength="26.3" lengthAdjust="spacingAndGlyphs" x="-0.6" y="1931.5" stroke="#000" stroke-width="1.7" stroke-linejoin="round">d</text>
</g>
</svg>
</body></html>
